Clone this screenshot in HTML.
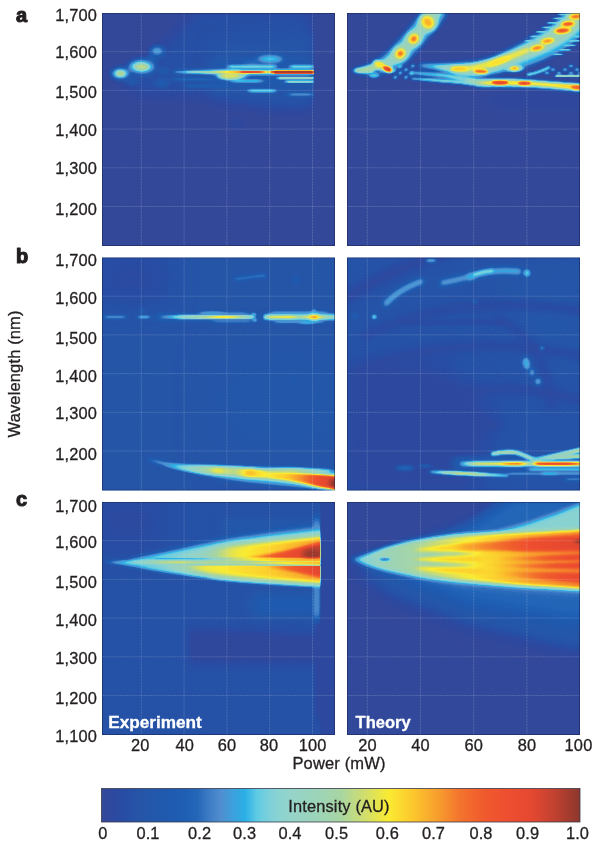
<!DOCTYPE html>
<html><head><meta charset="utf-8"><title>Figure</title>
<style>
html,body{margin:0;padding:0;background:#fff}
body{width:600px;height:846px;overflow:hidden}
svg{display:block}
text{font-family:"Liberation Sans",sans-serif;fill:#231f20}
.n{font-size:16.4px;stroke:#231f20;stroke-width:.3px;letter-spacing:.15px}
.b{font-weight:bold}
.g line{stroke:#fff;stroke-opacity:.3;stroke-width:.5;stroke-dasharray:2.4 .6}
</style></head><body>
<svg width="600" height="846" viewBox="0 0 600 846">
<defs>
<filter id="cm" x="0" y="0" width="1" height="1" filterUnits="objectBoundingBox" color-interpolation-filters="sRGB"><feComponentTransfer><feFuncR type="table" tableValues="0.212 0.210 0.209 0.208 0.206 0.195 0.183 0.173 0.155 0.149 0.145 0.137 0.128 0.121 0.118 0.122 0.141 0.192 0.243 0.278 0.314 0.275 0.235 0.200 0.165 0.269 0.373 0.431 0.490 0.520 0.549 0.569 0.588 0.593 0.598 0.603 0.608 0.621 0.633 0.646 0.659 0.698 0.737 0.776 0.816 0.857 0.898 0.939 0.980 0.982 0.984 0.986 0.988 0.984 0.980 0.976 0.973 0.968 0.963 0.958 0.953 0.950 0.947 0.944 0.941 0.939 0.937 0.935 0.933 0.924 0.914 0.904 0.894 0.857 0.820 0.782 0.745 0.696 0.647 0.598 0.549"/><feFuncG type="table" tableValues="0.282 0.283 0.283 0.283 0.283 0.284 0.286 0.289 0.302 0.319 0.333 0.342 0.347 0.354 0.363 0.378 0.400 0.443 0.486 0.522 0.557 0.592 0.627 0.659 0.690 0.743 0.796 0.806 0.816 0.822 0.827 0.829 0.831 0.831 0.831 0.831 0.831 0.833 0.835 0.837 0.839 0.847 0.855 0.863 0.871 0.883 0.896 0.909 0.922 0.887 0.853 0.819 0.784 0.745 0.706 0.667 0.627 0.583 0.539 0.495 0.451 0.426 0.402 0.377 0.353 0.341 0.329 0.318 0.306 0.300 0.294 0.288 0.282 0.275 0.269 0.262 0.255 0.245 0.235 0.225 0.216"/><feFuncB type="table" tableValues="0.600 0.601 0.602 0.603 0.604 0.611 0.619 0.627 0.642 0.651 0.658 0.667 0.676 0.688 0.699 0.709 0.722 0.747 0.773 0.792 0.812 0.837 0.863 0.882 0.902 0.898 0.894 0.875 0.855 0.835 0.816 0.800 0.784 0.770 0.755 0.740 0.725 0.703 0.680 0.658 0.635 0.582 0.529 0.476 0.424 0.367 0.310 0.253 0.196 0.191 0.186 0.181 0.176 0.176 0.176 0.176 0.176 0.176 0.176 0.176 0.176 0.176 0.176 0.176 0.176 0.179 0.182 0.185 0.188 0.188 0.188 0.188 0.188 0.188 0.188 0.188 0.188 0.185 0.182 0.179 0.176"/></feComponentTransfer></filter>
<linearGradient id="cb" x1="0" x2="1" y1="0" y2="0"><stop offset="0" stop-color="rgb(54,72,153)"/><stop offset="0.025" stop-color="rgb(45,73,159)"/><stop offset="0.05" stop-color="rgb(38,78,165)"/><stop offset="0.075" stop-color="rgb(38,84,167)"/><stop offset="0.1" stop-color="rgb(35,87,170)"/><stop offset="0.125" stop-color="rgb(32,89,173)"/><stop offset="0.15" stop-color="rgb(30,91,177)"/><stop offset="0.175" stop-color="rgb(30,95,180)"/><stop offset="0.2" stop-color="rgb(36,102,184)"/><stop offset="0.225" stop-color="rgb(62,124,197)"/><stop offset="0.25" stop-color="rgb(80,142,207)"/><stop offset="0.275" stop-color="rgb(60,160,220)"/><stop offset="0.3" stop-color="rgb(42,176,230)"/><stop offset="0.325" stop-color="rgb(95,203,228)"/><stop offset="0.35" stop-color="rgb(125,208,218)"/><stop offset="0.375" stop-color="rgb(140,211,208)"/><stop offset="0.4" stop-color="rgb(150,212,200)"/><stop offset="0.45" stop-color="rgb(155,212,185)"/><stop offset="0.5" stop-color="rgb(168,214,162)"/><stop offset="0.55" stop-color="rgb(208,222,108)"/><stop offset="0.6" stop-color="rgb(250,235,50)"/><stop offset="0.65" stop-color="rgb(252,200,45)"/><stop offset="0.7" stop-color="rgb(248,160,45)"/><stop offset="0.75" stop-color="rgb(243,115,45)"/><stop offset="0.8" stop-color="rgb(240,90,45)"/><stop offset="0.85" stop-color="rgb(238,78,48)"/><stop offset="0.9" stop-color="rgb(228,72,48)"/><stop offset="0.95" stop-color="rgb(190,65,48)"/><stop offset="1" stop-color="rgb(140,55,45)"/></linearGradient>
<clipPath id="cp00"><rect x="0" y="0" width="233" height="233"/></clipPath><clipPath id="cp01"><rect x="0" y="0" width="233" height="233"/></clipPath><clipPath id="cp02"><rect x="0" y="0" width="233" height="233"/></clipPath><clipPath id="cp10"><rect x="0" y="0" width="233" height="233"/></clipPath><clipPath id="cp11"><rect x="0" y="0" width="233" height="233"/></clipPath><clipPath id="cp12"><rect x="0" y="0" width="233" height="233"/></clipPath><linearGradient id="lg1" gradientUnits="userSpaceOnUse" x1="72" y1="0" x2="212" y2="0"><stop offset="0" stop-color="rgb(38,38,38)"/><stop offset="0.15" stop-color="rgb(61,61,61)"/><stop offset="0.3" stop-color="rgb(76,76,76)"/><stop offset="0.45" stop-color="rgb(92,92,92)"/><stop offset="1" stop-color="rgb(92,92,92)"/></linearGradient>
<linearGradient id="lg2" gradientUnits="userSpaceOnUse" x1="72" y1="0" x2="212" y2="0"><stop offset="0" stop-color="rgb(51,51,51)"/><stop offset="0.1" stop-color="rgb(84,84,84)"/><stop offset="0.28" stop-color="rgb(128,128,128)"/><stop offset="0.4" stop-color="rgb(158,158,158)"/><stop offset="0.47" stop-color="rgb(178,178,178)"/><stop offset="0.5" stop-color="rgb(230,230,230)"/><stop offset="0.6" stop-color="rgb(217,217,217)"/><stop offset="0.64" stop-color="rgb(178,178,178)"/><stop offset="0.675" stop-color="rgb(128,128,128)"/><stop offset="0.7" stop-color="rgb(204,204,204)"/><stop offset="0.73" stop-color="rgb(247,247,247)"/><stop offset="1" stop-color="rgb(247,247,247)"/></linearGradient>
<linearGradient id="lg3" gradientUnits="userSpaceOnUse" x1="110" y1="0" x2="233" y2="0"><stop offset="0" stop-color="rgb(89,89,89)" stop-opacity="0"/><stop offset="0.12" stop-color="rgb(115,115,115)"/><stop offset="0.25" stop-color="rgb(153,153,153)"/><stop offset="0.6" stop-color="rgb(153,153,153)"/><stop offset="0.8" stop-color="rgb(158,158,158)"/><stop offset="1" stop-color="rgb(178,178,178)"/></linearGradient>
<linearGradient id="lg4" gradientUnits="userSpaceOnUse" x1="58" y1="0" x2="152" y2="0"><stop offset="0" stop-color="rgb(51,51,51)"/><stop offset="0.2" stop-color="rgb(92,92,92)"/><stop offset="0.4" stop-color="rgb(117,117,117)"/><stop offset="0.55" stop-color="rgb(143,143,143)"/><stop offset="0.66" stop-color="rgb(158,158,158)"/><stop offset="0.8" stop-color="rgb(143,143,143)"/><stop offset="0.92" stop-color="rgb(115,115,115)"/><stop offset="1" stop-color="rgb(92,92,92)"/></linearGradient>
<linearGradient id="lg5" gradientUnits="userSpaceOnUse" x1="162" y1="0" x2="233" y2="0"><stop offset="0" stop-color="rgb(102,102,102)"/><stop offset="0.1" stop-color="rgb(153,153,153)"/><stop offset="0.36" stop-color="rgb(163,163,163)"/><stop offset="0.5" stop-color="rgb(133,133,133)"/><stop offset="0.62" stop-color="rgb(153,153,153)"/><stop offset="0.72" stop-color="rgb(184,184,184)"/><stop offset="0.8" stop-color="rgb(153,153,153)"/><stop offset="0.9" stop-color="rgb(122,122,122)"/><stop offset="1" stop-color="rgb(107,107,107)"/></linearGradient>
<linearGradient id="lg6" gradientUnits="userSpaceOnUse" x1="62" y1="0" x2="238" y2="0"><stop offset="0" stop-color="rgb(64,64,64)"/><stop offset="0.1" stop-color="rgb(92,92,92)"/><stop offset="0.2" stop-color="rgb(117,117,117)"/><stop offset="0.3" stop-color="rgb(143,143,143)"/><stop offset="0.4" stop-color="rgb(133,133,133)"/><stop offset="0.49" stop-color="rgb(163,163,163)"/><stop offset="0.58" stop-color="rgb(153,153,153)"/><stop offset="0.7" stop-color="rgb(166,166,166)"/><stop offset="0.8" stop-color="rgb(189,189,189)"/><stop offset="0.88" stop-color="rgb(219,219,219)"/><stop offset="0.95" stop-color="rgb(237,237,237)"/><stop offset="1" stop-color="rgb(255,255,255)"/></linearGradient>
<linearGradient id="lg7" gradientUnits="userSpaceOnUse" x1="165" y1="0" x2="228" y2="0"><stop offset="0" stop-color="rgb(128,128,128)"/><stop offset="0.4" stop-color="rgb(140,140,140)"/><stop offset="1" stop-color="rgb(97,97,97)"/></linearGradient>
<linearGradient id="lg8" gradientUnits="userSpaceOnUse" x1="84" y1="0" x2="160" y2="0"><stop offset="0" stop-color="rgb(71,71,71)"/><stop offset="0.2" stop-color="rgb(128,128,128)"/><stop offset="0.35" stop-color="rgb(158,158,158)"/><stop offset="0.6" stop-color="rgb(153,153,153)"/><stop offset="0.75" stop-color="rgb(107,107,107)"/><stop offset="1" stop-color="rgb(82,82,82)"/></linearGradient>
<linearGradient id="lg9" gradientUnits="userSpaceOnUse" x1="186" y1="0" x2="238" y2="0"><stop offset="0" stop-color="rgb(84,84,84)"/><stop offset="0.4" stop-color="rgb(107,107,107)"/><stop offset="1" stop-color="rgb(133,133,133)"/></linearGradient>
<linearGradient id="lg10" gradientUnits="userSpaceOnUse" x1="192" y1="0" x2="238" y2="0"><stop offset="0" stop-color="rgb(92,92,92)" stop-opacity="0"/><stop offset="0.3" stop-color="rgb(115,115,115)"/><stop offset="0.7" stop-color="rgb(148,148,148)"/><stop offset="1" stop-color="rgb(158,158,158)"/></linearGradient>
<linearGradient id="lg11" gradientUnits="userSpaceOnUse" x1="113" y1="0" x2="238" y2="0"><stop offset="0" stop-color="rgb(64,64,64)"/><stop offset="0.06" stop-color="rgb(102,102,102)"/><stop offset="0.12" stop-color="rgb(148,148,148)"/><stop offset="0.3" stop-color="rgb(158,158,158)"/><stop offset="0.38" stop-color="rgb(194,194,194)"/><stop offset="0.47" stop-color="rgb(204,204,204)"/><stop offset="0.53" stop-color="rgb(153,153,153)"/><stop offset="0.57" stop-color="rgb(128,128,128)"/><stop offset="0.62" stop-color="rgb(209,209,209)"/><stop offset="0.68" stop-color="rgb(237,237,237)"/><stop offset="0.86" stop-color="rgb(237,237,237)"/><stop offset="0.93" stop-color="rgb(204,204,204)"/><stop offset="1" stop-color="rgb(191,191,191)"/></linearGradient>
<linearGradient id="lg12" gradientUnits="userSpaceOnUse" x1="36" y1="0" x2="218" y2="0"><stop offset="0" stop-color="rgb(76,76,76)"/><stop offset="0.13" stop-color="rgb(87,87,87)"/><stop offset="0.35" stop-color="rgb(107,107,107)"/><stop offset="0.43" stop-color="rgb(128,128,128)"/><stop offset="0.52" stop-color="rgb(148,148,148)"/><stop offset="0.63" stop-color="rgb(156,156,156)"/><stop offset="0.74" stop-color="rgb(162,162,162)"/><stop offset="0.85" stop-color="rgb(171,171,171)"/><stop offset="1" stop-color="rgb(184,184,184)"/></linearGradient>
<clipPath id="cl1"><polygon points="0,0 222,0 222,56.4 50,55.6 0,55.6"/></clipPath>
<linearGradient id="lg13" gradientUnits="userSpaceOnUse" x1="30" y1="0" x2="218" y2="0"><stop offset="0" stop-color="rgb(76,76,76)"/><stop offset="0.16" stop-color="rgb(94,94,94)"/><stop offset="0.27" stop-color="rgb(120,120,120)"/><stop offset="0.37" stop-color="rgb(148,148,148)"/><stop offset="0.53" stop-color="rgb(156,156,156)"/><stop offset="0.7" stop-color="rgb(162,162,162)"/><stop offset="0.85" stop-color="rgb(171,171,171)"/><stop offset="1" stop-color="rgb(184,184,184)"/></linearGradient>
<clipPath id="cl2"><polygon points="0,63.2 222,63.6 222,120 0,120"/></clipPath>
<linearGradient id="lg14" gradientUnits="userSpaceOnUse" x1="140" y1="0" x2="218" y2="0"><stop offset="0" stop-color="rgb(168,168,168)" stop-opacity="0"/><stop offset="0.15" stop-color="rgb(178,178,178)"/><stop offset="0.45" stop-color="rgb(209,209,209)"/><stop offset="0.75" stop-color="rgb(230,230,230)"/><stop offset="1" stop-color="rgb(242,242,242)"/></linearGradient>
<clipPath id="cl3"><polygon points="0,0 222,0 222,56.4 50,55.6 0,55.6"/></clipPath>
<linearGradient id="lg15" gradientUnits="userSpaceOnUse" x1="160" y1="0" x2="218" y2="0"><stop offset="0" stop-color="rgb(168,168,168)" stop-opacity="0"/><stop offset="0.2" stop-color="rgb(178,178,178)"/><stop offset="0.6" stop-color="rgb(209,209,209)"/><stop offset="1" stop-color="rgb(230,230,230)"/></linearGradient>
<clipPath id="cl4"><polygon points="0,63.2 222,63.6 222,120 0,120"/></clipPath>
<linearGradient id="lg16" gradientUnits="userSpaceOnUse" x1="100" y1="0" x2="218" y2="0"><stop offset="0" stop-color="rgb(115,115,115)" stop-opacity="0"/><stop offset="0.2" stop-color="rgb(128,128,128)"/><stop offset="0.5" stop-color="rgb(158,158,158)"/><stop offset="0.8" stop-color="rgb(173,173,173)"/><stop offset="1" stop-color="rgb(178,178,178)"/></linearGradient>
<linearGradient id="lg17" gradientUnits="userSpaceOnUse" x1="48" y1="0" x2="128" y2="0"><stop offset="0" stop-color="rgb(74,74,74)" stop-opacity="0"/><stop offset="0.15" stop-color="rgb(74,74,74)"/><stop offset="0.7" stop-color="rgb(82,82,82)"/><stop offset="1" stop-color="rgb(89,89,89)" stop-opacity="0"/></linearGradient>
<linearGradient id="lg18" gradientUnits="userSpaceOnUse" x1="8" y1="0" x2="218" y2="0"><stop offset="0" stop-color="rgb(56,56,56)"/><stop offset="0.08" stop-color="rgb(84,84,84)"/><stop offset="0.17" stop-color="rgb(115,115,115)"/><stop offset="0.24" stop-color="rgb(148,148,148)"/><stop offset="0.33" stop-color="rgb(158,158,158)"/><stop offset="0.42" stop-color="rgb(143,143,143)"/><stop offset="0.5" stop-color="rgb(133,133,133)"/><stop offset="0.65" stop-color="rgb(138,138,138)"/><stop offset="0.75" stop-color="rgb(153,153,153)"/><stop offset="0.88" stop-color="rgb(173,173,173)"/><stop offset="1" stop-color="rgb(189,189,189)"/></linearGradient>
<clipPath id="cl5"><polygon points="0,0 222,0 222,56.6 0,56.6"/></clipPath>
<linearGradient id="lg19" gradientUnits="userSpaceOnUse" x1="3" y1="0" x2="233" y2="0"><stop offset="0" stop-color="rgb(76,76,76)"/><stop offset="0.065" stop-color="rgb(97,97,97)"/><stop offset="0.15" stop-color="rgb(115,115,115)"/><stop offset="0.24" stop-color="rgb(122,122,122)"/><stop offset="0.3" stop-color="rgb(130,130,130)"/><stop offset="0.42" stop-color="rgb(143,143,143)"/><stop offset="0.55" stop-color="rgb(156,156,156)"/><stop offset="0.66" stop-color="rgb(166,166,166)"/><stop offset="0.78" stop-color="rgb(178,178,178)"/><stop offset="1" stop-color="rgb(191,191,191)"/></linearGradient>
<linearGradient id="lg20" gradientUnits="userSpaceOnUse" x1="62" y1="0" x2="150" y2="0"><stop offset="0" stop-color="rgb(128,128,128)" stop-opacity="0"/><stop offset="0.15" stop-color="rgb(148,148,148)"/><stop offset="0.4" stop-color="rgb(161,161,161)"/><stop offset="0.8" stop-color="rgb(163,163,163)"/><stop offset="1" stop-color="rgb(163,163,163)" stop-opacity="0"/></linearGradient>
<linearGradient id="lg21" gradientUnits="userSpaceOnUse" x1="56" y1="0" x2="135" y2="0"><stop offset="0" stop-color="rgb(117,117,117)" stop-opacity="0"/><stop offset="0.2" stop-color="rgb(117,117,117)"/><stop offset="0.7" stop-color="rgb(128,128,128)"/><stop offset="1" stop-color="rgb(143,143,143)" stop-opacity="0"/></linearGradient>
<linearGradient id="lg22" gradientUnits="userSpaceOnUse" x1="100" y1="0" x2="233" y2="0"><stop offset="0" stop-color="rgb(163,163,163)" stop-opacity="0"/><stop offset="0.12" stop-color="rgb(173,173,173)"/><stop offset="0.4" stop-color="rgb(194,194,194)"/><stop offset="0.65" stop-color="rgb(217,217,217)"/><stop offset="1" stop-color="rgb(232,232,232)"/></linearGradient>
<linearGradient id="lg23" gradientUnits="userSpaceOnUse" x1="135" y1="0" x2="233" y2="0"><stop offset="0" stop-color="rgb(158,158,158)" stop-opacity="0"/><stop offset="0.2" stop-color="rgb(168,168,168)"/><stop offset="0.55" stop-color="rgb(194,194,194)"/><stop offset="0.8" stop-color="rgb(214,214,214)"/><stop offset="1" stop-color="rgb(224,224,224)"/></linearGradient>
<filter id="bl0" x="-100%" y="-100%" width="300%" height="300%" color-interpolation-filters="sRGB"><feGaussianBlur stdDeviation="7 7"/></filter>
<filter id="bl1" x="-100%" y="-100%" width="300%" height="300%" color-interpolation-filters="sRGB"><feGaussianBlur stdDeviation="8 8"/></filter>
<filter id="bl2" x="-100%" y="-100%" width="300%" height="300%" color-interpolation-filters="sRGB"><feGaussianBlur stdDeviation="3 3"/></filter>
<filter id="bl3" x="-100%" y="-100%" width="300%" height="300%" color-interpolation-filters="sRGB"><feGaussianBlur stdDeviation="2.6 2.6"/></filter>
<filter id="bl4" x="-100%" y="-100%" width="300%" height="300%" color-interpolation-filters="sRGB"><feGaussianBlur stdDeviation="1.8 1.8"/></filter>
<filter id="bl5" x="-100%" y="-100%" width="300%" height="300%" color-interpolation-filters="sRGB"><feGaussianBlur stdDeviation="1.2 1.2"/></filter>
<filter id="bl6" x="-100%" y="-100%" width="300%" height="300%" color-interpolation-filters="sRGB"><feGaussianBlur stdDeviation="2.8 2.8"/></filter>
<filter id="bl7" x="-100%" y="-100%" width="300%" height="300%" color-interpolation-filters="sRGB"><feGaussianBlur stdDeviation="1.3 1.3"/></filter>
<filter id="bl8" x="-100%" y="-100%" width="300%" height="300%" color-interpolation-filters="sRGB"><feGaussianBlur stdDeviation="2.5 2.5"/></filter>
<filter id="bl9" x="-100%" y="-100%" width="300%" height="300%" color-interpolation-filters="sRGB"><feGaussianBlur stdDeviation="2 2"/></filter>
<filter id="bl10" x="-100%" y="-100%" width="300%" height="300%" color-interpolation-filters="sRGB"><feGaussianBlur stdDeviation="4 1"/></filter>
<filter id="bl11" x="-100%" y="-100%" width="300%" height="300%" color-interpolation-filters="sRGB"><feGaussianBlur stdDeviation="5 1.2"/></filter>
<filter id="bl12" x="-100%" y="-100%" width="300%" height="300%" color-interpolation-filters="sRGB"><feGaussianBlur stdDeviation="6 4"/></filter>
<filter id="bl13" x="-100%" y="-100%" width="300%" height="300%" color-interpolation-filters="sRGB"><feGaussianBlur stdDeviation="3 1.2"/></filter>
<filter id="bl14" x="-100%" y="-100%" width="300%" height="300%" color-interpolation-filters="sRGB"><feGaussianBlur stdDeviation="3 1.5"/></filter>
<filter id="bl15" x="-100%" y="-100%" width="300%" height="300%" color-interpolation-filters="sRGB"><feGaussianBlur stdDeviation="2 1"/></filter>
<filter id="bl16" x="-100%" y="-100%" width="300%" height="300%" color-interpolation-filters="sRGB"><feGaussianBlur stdDeviation="3 2"/></filter>
<filter id="bl17" x="-100%" y="-100%" width="300%" height="300%" color-interpolation-filters="sRGB"><feGaussianBlur stdDeviation="2 0.8"/></filter>
<filter id="bl18" x="-100%" y="-100%" width="300%" height="300%" color-interpolation-filters="sRGB"><feGaussianBlur stdDeviation="2 0.7"/></filter>
<filter id="bl19" x="-100%" y="-100%" width="300%" height="300%" color-interpolation-filters="sRGB"><feGaussianBlur stdDeviation="2.5 0.9"/></filter>
<filter id="bl20" x="-100%" y="-100%" width="300%" height="300%" color-interpolation-filters="sRGB"><feGaussianBlur stdDeviation="3 0.8"/></filter>
<filter id="bl21" x="-100%" y="-100%" width="300%" height="300%" color-interpolation-filters="sRGB"><feGaussianBlur stdDeviation="1.2 0.65"/></filter>
<filter id="bl22" x="-100%" y="-100%" width="300%" height="300%" color-interpolation-filters="sRGB"><feGaussianBlur stdDeviation="0.8 0.55"/></filter>
<filter id="bl23" x="-100%" y="-100%" width="300%" height="300%" color-interpolation-filters="sRGB"><feGaussianBlur stdDeviation="8 6"/></filter>
<filter id="bl24" x="-100%" y="-100%" width="300%" height="300%" color-interpolation-filters="sRGB"><feGaussianBlur stdDeviation="2.4 2.4"/></filter>
<filter id="bl25" x="-100%" y="-100%" width="300%" height="300%" color-interpolation-filters="sRGB"><feGaussianBlur stdDeviation="1.6 1.6"/></filter>
<filter id="bl26" x="-100%" y="-100%" width="300%" height="300%" color-interpolation-filters="sRGB"><feGaussianBlur stdDeviation="1.5 1.5"/></filter>
<filter id="bl27" x="-100%" y="-100%" width="300%" height="300%" color-interpolation-filters="sRGB"><feGaussianBlur stdDeviation="1 1"/></filter>
<filter id="bl28" x="-100%" y="-100%" width="300%" height="300%" color-interpolation-filters="sRGB"><feGaussianBlur stdDeviation="0.8 0.8"/></filter>
<filter id="bl29" x="-100%" y="-100%" width="300%" height="300%" color-interpolation-filters="sRGB"><feGaussianBlur stdDeviation="2.2 2.2"/></filter>
<filter id="bl30" x="-100%" y="-100%" width="300%" height="300%" color-interpolation-filters="sRGB"><feGaussianBlur stdDeviation="1.4 0.6"/></filter>
<filter id="bl31" x="-100%" y="-100%" width="300%" height="300%" color-interpolation-filters="sRGB"><feGaussianBlur stdDeviation="1.7 1.7"/></filter>
<filter id="bl32" x="-100%" y="-100%" width="300%" height="300%" color-interpolation-filters="sRGB"><feGaussianBlur stdDeviation="1.1 1.1"/></filter>
<filter id="bl33" x="-100%" y="-100%" width="300%" height="300%" color-interpolation-filters="sRGB"><feGaussianBlur stdDeviation="0.9 0.9"/></filter>
<filter id="bl34" x="-100%" y="-100%" width="300%" height="300%" color-interpolation-filters="sRGB"><feGaussianBlur stdDeviation="1.5 0.7"/></filter>
<filter id="bl35" x="-100%" y="-100%" width="300%" height="300%" color-interpolation-filters="sRGB"><feGaussianBlur stdDeviation="14 14"/></filter>
<filter id="bl36" x="-100%" y="-100%" width="300%" height="300%" color-interpolation-filters="sRGB"><feGaussianBlur stdDeviation="20 20"/></filter>
<filter id="bl37" x="-100%" y="-100%" width="300%" height="300%" color-interpolation-filters="sRGB"><feGaussianBlur stdDeviation="2.5 1"/></filter>
<filter id="bl38" x="-100%" y="-100%" width="300%" height="300%" color-interpolation-filters="sRGB"><feGaussianBlur stdDeviation="3 1"/></filter>
<filter id="bl39" x="-100%" y="-100%" width="300%" height="300%" color-interpolation-filters="sRGB"><feGaussianBlur stdDeviation="1.5 0.75"/></filter>
<filter id="bl40" x="-100%" y="-100%" width="300%" height="300%" color-interpolation-filters="sRGB"><feGaussianBlur stdDeviation="1.3 0.8"/></filter>
<filter id="bl41" x="-100%" y="-100%" width="300%" height="300%" color-interpolation-filters="sRGB"><feGaussianBlur stdDeviation="3 0.9"/></filter>
<filter id="bl42" x="-100%" y="-100%" width="300%" height="300%" color-interpolation-filters="sRGB"><feGaussianBlur stdDeviation="12 12"/></filter>
<filter id="bl43" x="-100%" y="-100%" width="300%" height="300%" color-interpolation-filters="sRGB"><feGaussianBlur stdDeviation="4 4"/></filter>
<filter id="bl44" x="-100%" y="-100%" width="300%" height="300%" color-interpolation-filters="sRGB"><feGaussianBlur stdDeviation="3.5 3.5"/></filter>
<filter id="bl45" x="-100%" y="-100%" width="300%" height="300%" color-interpolation-filters="sRGB"><feGaussianBlur stdDeviation="2.1 2.1"/></filter>
<filter id="bl46" x="-100%" y="-100%" width="300%" height="300%" color-interpolation-filters="sRGB"><feGaussianBlur stdDeviation="1.4 1.4"/></filter>
<filter id="bl47" x="-100%" y="-100%" width="300%" height="300%" color-interpolation-filters="sRGB"><feGaussianBlur stdDeviation="5 2.2"/></filter>
<filter id="bl48" x="-100%" y="-100%" width="300%" height="300%" color-interpolation-filters="sRGB"><feGaussianBlur stdDeviation="1.4 0.8"/></filter>
<filter id="bl49" x="-100%" y="-100%" width="300%" height="300%" color-interpolation-filters="sRGB"><feGaussianBlur stdDeviation="1.6 0.85"/></filter>
<filter id="bl50" x="-100%" y="-100%" width="300%" height="300%" color-interpolation-filters="sRGB"><feGaussianBlur stdDeviation="3 4"/></filter>
<filter id="bl51" x="-100%" y="-100%" width="300%" height="300%" color-interpolation-filters="sRGB"><feGaussianBlur stdDeviation="1.5 6"/></filter>
<filter id="bl52" x="-100%" y="-100%" width="300%" height="300%" color-interpolation-filters="sRGB"><feGaussianBlur stdDeviation="7 4"/></filter>
<filter id="bl53" x="-100%" y="-100%" width="300%" height="300%" color-interpolation-filters="sRGB"><feGaussianBlur stdDeviation="1 4"/></filter>
<filter id="bl54" x="-100%" y="-100%" width="300%" height="300%" color-interpolation-filters="sRGB"><feGaussianBlur stdDeviation="0.6 0.6"/></filter>
<filter id="bl55" x="-100%" y="-100%" width="300%" height="300%" color-interpolation-filters="sRGB"><feGaussianBlur stdDeviation="0.5 0.5"/></filter>
<filter id="bl56" x="-100%" y="-100%" width="300%" height="300%" color-interpolation-filters="sRGB"><feGaussianBlur stdDeviation="1.5 0.6"/></filter>
<filter id="bl57" x="-100%" y="-100%" width="300%" height="300%" color-interpolation-filters="sRGB"><feGaussianBlur stdDeviation="1.5 0.5"/></filter>
<filter id="bl58" x="-100%" y="-100%" width="300%" height="300%" color-interpolation-filters="sRGB"><feGaussianBlur stdDeviation="9 9"/></filter>
<filter id="bl59" x="-100%" y="-100%" width="300%" height="300%" color-interpolation-filters="sRGB"><feGaussianBlur stdDeviation="6 6"/></filter>
<filter id="bl60" x="-100%" y="-100%" width="300%" height="300%" color-interpolation-filters="sRGB"><feGaussianBlur stdDeviation="2.3 2.3"/></filter>
<filter id="bl61" x="-100%" y="-100%" width="300%" height="300%" color-interpolation-filters="sRGB"><feGaussianBlur stdDeviation="2 1.1"/></filter>
</defs>
<g transform="translate(102,13)" clip-path="url(#cp00)">
<g filter="url(#cm)">
<rect x="0" y="0" width="233" height="233" fill="#0d0d0d"/>
<polygon points="14,70 40,52 95,-5 212,-5 212,98 180,99 100,86 40,82" fill="rgb(28,28,28)" filter="url(#bl0)"/>
<polygon points="110,30 212,20 212,90 110,84" fill="rgb(33,33,33)" filter="url(#bl1)"/>
<ellipse cx="135" cy="110" rx="8" ry="3" fill="rgb(31,31,31)" filter="url(#bl2)"/>
<ellipse cx="18.6" cy="60.4" rx="10" ry="6" fill="rgb(79,79,79)" filter="url(#bl3)"/>
<ellipse cx="18.6" cy="60.4" rx="5.5" ry="3.2" fill="rgb(107,107,107)" filter="url(#bl4)"/>
<ellipse cx="18.6" cy="60.4" rx="3.6" ry="2" fill="rgb(135,135,135)" filter="url(#bl5)"/>
<ellipse cx="39.4" cy="53.6" rx="14" ry="7.5" fill="rgb(79,79,79)" filter="url(#bl6)"/>
<ellipse cx="39.4" cy="53.6" rx="8.5" ry="4.2" fill="rgb(107,107,107)" filter="url(#bl4)"/>
<ellipse cx="39.8" cy="53.8" rx="6" ry="2.6" fill="rgb(135,135,135)" filter="url(#bl7)"/>
<ellipse cx="55" cy="38" rx="7" ry="4.5" fill="rgb(76,76,76)" filter="url(#bl8)"/>
<ellipse cx="50" cy="46" rx="5" ry="3" fill="rgb(56,56,56)" filter="url(#bl8)"/>
<ellipse cx="60" cy="70" rx="6" ry="3" fill="rgb(51,51,51)" filter="url(#bl8)"/>
<ellipse cx="30" cy="68" rx="6" ry="3" fill="rgb(46,46,46)" filter="url(#bl8)"/>
<ellipse cx="62" cy="58" rx="5" ry="2" fill="rgb(51,51,51)" filter="url(#bl9)"/>
<rect x="72" y="65" width="50" height="2.6" fill="rgb(59,59,59)" filter="url(#bl10)"/>
<rect x="84" y="71.5" width="44" height="3" fill="rgb(51,51,51)" filter="url(#bl11)"/>
<rect x="110" y="48" width="102" height="26" fill="rgb(41,41,41)" filter="url(#bl12)"/>
<rect x="72" y="56" width="140" height="6" fill="url(#lg1)" filter="url(#bl13)"/>
<ellipse cx="130" cy="62" rx="14" ry="4.6" fill="rgb(117,117,117)" filter="url(#bl14)"/>
<ellipse cx="128" cy="63" rx="11" ry="3" fill="rgb(143,143,143)" filter="url(#bl15)"/>
<ellipse cx="168" cy="46" rx="13" ry="4" fill="rgb(84,84,84)" filter="url(#bl16)"/>
<ellipse cx="150" cy="50" rx="10" ry="3" fill="rgb(56,56,56)" filter="url(#bl16)"/>
<rect x="126" y="52.2" width="48" height="2.8" fill="rgb(102,102,102)" filter="url(#bl17)"/>
<rect x="188" y="52.2" width="24" height="2.8" fill="rgb(102,102,102)" filter="url(#bl17)"/>
<rect x="176" y="63.8" width="36" height="2.6" fill="rgb(107,107,107)" filter="url(#bl18)"/>
<rect x="184" y="67.4" width="28" height="2.4" fill="rgb(102,102,102)" filter="url(#bl18)"/>
<rect x="146" y="76.3" width="28" height="3" fill="rgb(97,97,97)" filter="url(#bl19)"/>
<rect x="186" y="80" width="26" height="3" fill="rgb(69,69,69)" filter="url(#bl13)"/>
<rect x="130" y="66.8" width="30" height="2.4" fill="rgb(97,97,97)" filter="url(#bl20)"/>
<rect x="72" y="57.8" width="140" height="2.6" fill="url(#lg2)" filter="url(#bl21)"/>
<rect x="172" y="57.6" width="40" height="3" fill="rgb(247,247,247)" filter="url(#bl22)"/>
<rect x="212" y="-5" width="30" height="243" fill="rgb(13,13,13)"/>
</g>
<g class="g"><line x1="39.3" y1="0" x2="39.3" y2="233"/><line x1="82.1" y1="0" x2="82.1" y2="233"/><line x1="124.9" y1="0" x2="124.9" y2="233"/><line x1="167.7" y1="0" x2="167.7" y2="233"/><line x1="210.5" y1="0" x2="210.5" y2="233"/><line x1="0" y1="38.7" x2="233" y2="38.7"/><line x1="0" y1="77.4" x2="233" y2="77.4"/><line x1="0" y1="116.1" x2="233" y2="116.1"/><line x1="0" y1="154.8" x2="233" y2="154.8"/><line x1="0" y1="193.5" x2="233" y2="193.5"/></g>
<rect x="0.4" y="0.4" width="232.2" height="232.2" fill="none" stroke="#141a46" stroke-opacity=".55" stroke-width=".8"/>
</g>
<g transform="translate(347,13)" clip-path="url(#cp10)">
<g filter="url(#cm)">
<rect x="0" y="0" width="233" height="233" fill="#0d0d0d"/>
<rect x="140" y="76" width="110" height="22" fill="rgb(19,19,19)" filter="url(#bl23)"/>
<polygon points="3,57.5 3.9,57.8 5.2,58.2 6.7,58.7 8.4,59.2 10.1,59.7 11.9,60.2 13.6,60.7 15.2,61 16.7,61.2 18.1,61.4 19.5,61.6 20.9,61.7 22.2,61.8 23.6,61.9 24.9,61.9 26.3,61.9 27.7,61.8 29,61.8 30.4,61.7 31.9,61.6 33.4,61.4 35,61.1 36.6,60.7 38.3,60.3 40,59.8 41.6,59.2 43.2,58.5 44.8,57.8 46.3,57.1 47.8,56.4 49.2,55.7 50.5,55 51.8,54.3 53.1,53.6 54.4,52.8 55.7,52 57,51.2 58.2,50.3 59.4,49.3 60.7,48.3 61.9,47.2 63,46 64.1,44.9 65,43.8 65.8,42.8 66.6,41.8 67.3,41 68,40.2 68.7,39.4 69.5,38.6 70.3,37.7 71.1,36.9 72,35.9 72.9,35 73.9,33.9 74.8,32.9 75.8,31.7 76.7,30.6 77.6,29.5 78.4,28.4 79.3,27.4 80.1,26.4 80.9,25.4 81.7,24.5 82.5,23.6 83.4,22.6 84.3,21.6 85.3,20.6 86.3,19.6 87.3,18.5 88.3,17.3 89.3,16.2 90.3,15 91.2,13.9 92,12.7 92.9,11.6 93.7,10.5 94.4,9.5 95.2,8.5 95.9,7.5 96.6,6.5 97.4,5.4 98.1,4.4 98.9,3.3 99.5,2.4 100.1,1.6 100.6,0.9 101,0.4 83,-12.4 82.6,-11.8 82.1,-11.1 81.6,-10.3 80.9,-9.4 80.2,-8.4 79.5,-7.4 78.8,-6.4 78.1,-5.5 77.4,-4.5 76.7,-3.5 76,-2.6 75.2,-1.6 74.5,-0.6 73.7,0.4 73,1.3 72.3,2.2 71.6,3.1 70.8,4.1 70,5 69.1,6.1 68.2,7.1 67.3,8.2 66.3,9.4 65.3,10.5 64.4,11.7 63.4,12.8 62.5,13.9 61.7,15 60.9,16 60.1,17 59.3,17.9 58.6,18.7 57.9,19.6 57.1,20.4 56.4,21.2 55.6,22 54.7,22.9 53.9,23.8 53,24.8 52,25.8 51.1,26.9 50.1,27.9 49.3,28.9 48.5,29.8 47.8,30.6 47.1,31.4 46.5,32 45.9,32.7 45.3,33.4 44.5,34.1 43.8,34.9 43,35.7 42.2,36.5 41.3,37.3 40.4,38.1 39.5,39 38.5,39.9 37.5,40.8 36.4,41.7 35.4,42.6 34.4,43.5 33.5,44.3 32.6,45 31.7,45.7 30.9,46.3 30,46.9 29.1,47.5 28.1,48 27.1,48.5 26,49.1 24.8,49.6 23.7,50.1 22.6,50.7 21.5,51.2 20.5,51.7 19.4,52.1 18.3,52.6 17.2,53.1 16,53.5 14.8,54 13.4,54.5 11.8,55 10.1,55.5 8.4,56 6.7,56.5 5.2,56.9 3.9,57.2 3,57.5" fill="rgb(76,76,76)" filter="url(#bl24)"/>
<polygon points="3,57.5 3.9,57.6 5.2,57.9 6.7,58.1 8.4,58.4 10.1,58.7 11.9,58.9 13.6,59.1 15.1,59.2 16.5,59.3 17.9,59.4 19.2,59.4 20.5,59.3 21.8,59.3 23.1,59.2 24.4,59.1 25.7,58.9 27,58.8 28.3,58.6 29.6,58.4 31,58.2 32.3,57.9 33.8,57.5 35.2,57.1 36.6,56.6 38.1,56.1 39.6,55.4 41,54.7 42.5,54 43.8,53.3 45.2,52.5 46.5,51.8 47.8,51 49,50.3 50.2,49.5 51.4,48.7 52.5,47.9 53.7,47.1 54.8,46.2 55.9,45.4 57,44.4 58.1,43.4 59.1,42.4 60,41.3 60.9,40.3 61.7,39.3 62.5,38.4 63.2,37.5 64,36.6 64.8,35.8 65.6,34.9 66.4,34 67.2,33.2 68.1,32.3 69,31.3 69.9,30.3 70.8,29.3 71.7,28.3 72.5,27.2 73.4,26.1 74.3,25.1 75.1,24 75.9,23 76.8,22 77.6,21 78.5,20 79.3,19 80.3,18 81.2,17 82.2,15.9 83.2,14.9 84.1,13.8 85.1,12.7 85.9,11.6 86.8,10.5 87.6,9.4 88.5,8.3 89.2,7.3 90,6.2 90.7,5.2 91.4,4.3 92.2,3.3 92.9,2.2 93.7,1.2 94.4,0.2 95,-0.8 95.6,-1.6 96.1,-2.3 96.5,-2.8 87.5,-9.2 87.1,-8.6 86.6,-7.9 86.1,-7.1 85.4,-6.2 84.7,-5.2 84,-4.2 83.3,-3.2 82.6,-2.3 81.9,-1.3 81.1,-0.3 80.4,0.7 79.6,1.7 78.9,2.7 78.1,3.7 77.3,4.7 76.5,5.7 75.8,6.7 74.9,7.7 74.1,8.7 73.1,9.7 72.2,10.8 71.3,11.8 70.3,12.9 69.4,14 68.5,15.1 67.6,16.2 66.7,17.3 65.9,18.4 65,19.4 64.2,20.4 63.4,21.4 62.6,22.3 61.9,23.2 61.1,24 60.3,24.9 59.4,25.7 58.6,26.6 57.8,27.5 56.9,28.4 56,29.4 55.1,30.4 54.3,31.4 53.4,32.4 52.6,33.3 51.9,34.2 51.1,35 50.4,35.8 49.6,36.6 48.8,37.4 48,38.2 47.1,39 46.2,39.8 45.2,40.6 44.3,41.4 43.3,42.2 42.2,43 41.2,43.8 40,44.7 38.9,45.6 37.8,46.4 36.6,47.2 35.5,48 34.4,48.7 33.4,49.4 32.3,49.9 31.2,50.4 30.2,50.9 29,51.4 27.9,51.8 26.7,52.2 25.5,52.7 24.3,53.1 23.2,53.5 22,53.8 20.9,54.2 19.8,54.5 18.6,54.9 17.4,55.2 16.2,55.5 14.9,55.8 13.5,56 11.8,56.3 10.1,56.6 8.4,56.8 6.7,57 5.2,57.2 3.9,57.4 3,57.5" fill="rgb(102,102,102)" filter="url(#bl4)"/>
<polygon points="8.1,58.7 9,58.8 10.3,58.9 11.8,59 13.5,59.1 15.3,59.2 17.1,59.3 18.8,59.3 20.4,59.2 21.9,59.1 23.3,58.9 24.7,58.6 26.1,58.4 27.3,58.1 28.6,57.8 29.8,57.5 30.9,57.1 32.1,56.8 33.2,56.3 34.4,55.8 35.5,55.4 36.5,54.9 37.4,54.5 38.2,54.1 38.8,53.9 37.2,49.1 36.6,49.3 35.8,49.4 34.8,49.6 33.7,49.8 32.6,50.1 31.4,50.3 30.2,50.6 29.1,50.9 28,51.2 26.8,51.5 25.6,51.9 24.4,52.3 23.2,52.7 22,53.1 20.8,53.4 19.6,53.8 18.2,54.1 16.6,54.5 14.9,54.8 13.2,55.2 11.6,55.5 10.1,55.8 8.8,56.1 7.9,56.3" fill="rgb(128,128,128)" filter="url(#bl25)"/>
<ellipse cx="32" cy="51" rx="6" ry="3.2" fill="rgb(158,158,158)" transform="rotate(18 32 51)" filter="url(#bl26)"/>
<ellipse cx="40.8" cy="56.3" rx="5.2" ry="2.8" fill="rgb(237,237,237)" transform="rotate(22 40.8 56.3)" filter="url(#bl5)"/>
<ellipse cx="53.3" cy="40.5" rx="9.5" ry="7.4" fill="rgb(117,117,117)" transform="rotate(-45 53.3 40.5)" filter="url(#bl9)"/>
<ellipse cx="53.3" cy="40.5" rx="6.2" ry="5.2" fill="rgb(153,153,153)" transform="rotate(-45 53.3 40.5)" filter="url(#bl25)"/>
<ellipse cx="53.3" cy="40.5" rx="3" ry="2.6" fill="rgb(194,194,194)" transform="rotate(-45 53.3 40.5)" filter="url(#bl7)"/>
<ellipse cx="66.7" cy="25.8" rx="9.5" ry="7.4" fill="rgb(117,117,117)" transform="rotate(-45 66.7 25.8)" filter="url(#bl9)"/>
<ellipse cx="66.7" cy="25.8" rx="6.2" ry="5.2" fill="rgb(153,153,153)" transform="rotate(-45 66.7 25.8)" filter="url(#bl25)"/>
<ellipse cx="66.7" cy="25.8" rx="3" ry="2.6" fill="rgb(194,194,194)" transform="rotate(-45 66.7 25.8)" filter="url(#bl7)"/>
<ellipse cx="80.8" cy="9.2" rx="10" ry="9.5" fill="rgb(117,117,117)" transform="rotate(-45 80.8 9.2)" filter="url(#bl9)"/>
<ellipse cx="80.8" cy="9.2" rx="6.7" ry="7.3" fill="rgb(153,153,153)" transform="rotate(-45 80.8 9.2)" filter="url(#bl25)"/>
<ellipse cx="80.8" cy="9.2" rx="3.5" ry="4.7" fill="rgb(173,173,173)" transform="rotate(-45 80.8 9.2)" filter="url(#bl7)"/>
<ellipse cx="30" cy="58.6" rx="4" ry="1.2" fill="rgb(31,31,31)" filter="url(#bl27)"/>
<ellipse cx="27" cy="62.5" rx="5.5" ry="2.4" fill="rgb(84,84,84)" filter="url(#bl5)"/>
<ellipse cx="65.8" cy="53" rx="2.6" ry="1.7" fill="rgb(94,94,94)" transform="rotate(-30 65.8 53)" filter="url(#bl28)"/>
<ellipse cx="59" cy="56.7" rx="2.6" ry="1.7" fill="rgb(94,94,94)" transform="rotate(-30 59 56.7)" filter="url(#bl28)"/>
<ellipse cx="53.3" cy="60" rx="2.6" ry="1.7" fill="rgb(94,94,94)" transform="rotate(-30 53.3 60)" filter="url(#bl28)"/>
<ellipse cx="48.3" cy="64.2" rx="2.6" ry="1.7" fill="rgb(94,94,94)" transform="rotate(-30 48.3 64.2)" filter="url(#bl28)"/>
<ellipse cx="59" cy="64.2" rx="2.6" ry="1.7" fill="rgb(94,94,94)" transform="rotate(-30 59 64.2)" filter="url(#bl28)"/>
<ellipse cx="53" cy="53.5" rx="2.6" ry="1.7" fill="rgb(94,94,94)" transform="rotate(-30 53 53.5)" filter="url(#bl28)"/>
<ellipse cx="47" cy="57.5" rx="2.6" ry="1.7" fill="rgb(94,94,94)" transform="rotate(-30 47 57.5)" filter="url(#bl28)"/>
<ellipse cx="64.5" cy="60.5" rx="2.6" ry="1.7" fill="rgb(94,94,94)" transform="rotate(-30 64.5 60.5)" filter="url(#bl28)"/>
<polygon points="71.9,53.7 73.2,53.9 74.8,54.1 76.8,54.3 79,54.6 81.3,54.9 83.6,55.3 85.8,55.6 87.8,56 89.6,56.4 91.4,56.9 93.2,57.4 94.9,57.9 96.6,58.4 98.3,58.9 99.9,59.5 101.4,60 102.7,60.5 104,61 105.2,61.5 106.4,62.1 107.7,62.6 109.2,63.2 110.8,63.6 112.5,64 114.3,64.3 116.1,64.5 118.1,64.8 120.2,64.9 122.3,65 124.4,65.1 126.6,65.1 128.8,65 131.1,64.8 133.3,64.5 135.5,64.1 137.6,63.7 139.7,63.3 141.6,62.8 143.5,62.4 145.2,62 146.8,61.6 148.1,61.2 149.4,60.8 150.7,60.4 151.9,60 153.2,59.5 154.6,59 156.4,58.3 158.5,57.6 160.9,56.7 163.6,55.7 166.3,54.7 169.1,53.6 171.9,52.6 174.5,51.6 176.9,50.7 179.2,49.9 181.3,49.1 183.4,48.3 185.5,47.6 187.6,46.8 189.6,46.1 191.7,45.3 193.8,44.4 195.8,43.6 197.7,42.8 199.6,41.9 201.5,41.1 203.4,40.2 205.3,39.2 207.3,38.3 209.2,37.3 211.1,36.2 213.1,35.2 215.1,34.1 217.1,32.9 219.1,31.7 221.1,30.4 223.2,29.1 225.2,27.6 227.1,26.1 229,24.6 230.7,23.1 232.5,21.5 234.1,19.9 235.7,18.4 237.3,16.8 238.9,15.2 240.6,13.4 242.3,11.4 244,9.4 245.7,7.4 247.2,5.6 248.5,3.9 249.6,2.6 250.4,1.6 229.6,-15.6 228.7,-14.6 227.6,-13.2 226.3,-11.6 224.8,-9.8 223.3,-8.1 221.8,-6.3 220.4,-4.6 219.1,-3.2 217.8,-1.8 216.5,-0.3 215.2,1.1 213.9,2.4 212.6,3.7 211.4,5 210.1,6.2 208.8,7.4 207.5,8.5 206.1,9.7 204.7,10.9 203.2,12.1 201.6,13.3 200,14.4 198.4,15.6 196.8,16.7 195.3,17.8 193.7,18.8 192.2,19.8 190.7,20.8 189.2,21.7 187.6,22.7 185.9,23.6 184.2,24.6 182.5,25.5 180.8,26.4 179.1,27.4 177.2,28.3 175.3,29.2 173.3,30.2 171.2,31.2 169.1,32.3 166.7,33.5 164.2,34.7 161.6,36 158.9,37.3 156.3,38.5 153.8,39.7 151.6,40.8 149.6,41.7 148,42.4 146.6,43 145.6,43.4 144.7,43.8 143.9,44.1 143.1,44.4 142.1,44.7 140.8,45 139.2,45.5 137.6,45.9 135.8,46.3 134,46.7 132.2,47.1 130.5,47.5 128.8,47.8 127.2,48 125.6,48.2 123.9,48.4 122.1,48.5 120.3,48.6 118.6,48.7 116.8,48.8 115.1,48.9 113.5,49 112.1,49.2 110.9,49.3 109.7,49.4 108.5,49.6 107.2,49.7 105.8,49.8 104.2,49.9 102.6,50 101,50.2 99.3,50.3 97.5,50.4 95.7,50.6 93.9,50.7 92,50.8 90.1,50.9 88.2,51 86.2,51.1 83.9,51.1 81.6,51.2 79.2,51.2 77,51.2 75,51.2 73.3,51.2 72.1,51.3" fill="rgb(76,76,76)" filter="url(#bl24)"/>
<polygon points="148.4,59 149.9,58.8 152,58.7 154.5,58.6 157.3,58.4 160.3,58.1 163.3,57.8 166.2,57.4 169,56.9 171.7,56.2 174.4,55.5 177,54.7 179.7,53.8 182.3,52.9 184.9,52 187.3,51.1 189.7,50.2 192,49.3 194.2,48.3 196.3,47.4 198.4,46.5 200.4,45.5 202.4,44.5 204.5,43.4 206.6,42.3 208.7,41.1 210.8,39.9 213,38.7 215.1,37.4 217.3,36.1 219.4,34.7 221.6,33.2 223.7,31.7 226,30 228.4,28.1 230.8,26 233.2,24 235.4,22.1 237.4,20.3 239.1,18.9 240.3,17.9 231.7,8.1 230.4,9.3 228.8,10.8 226.9,12.6 224.8,14.6 222.6,16.7 220.4,18.7 218.2,20.6 216.3,22.3 214.4,23.8 212.6,25.4 210.7,26.9 208.9,28.3 207,29.8 205.2,31.1 203.3,32.4 201.4,33.7 199.6,34.9 197.8,36 196,37 194.1,38 192.3,39 190.4,39.9 188.4,40.9 186.3,41.8 184,42.8 181.7,43.8 179.3,44.7 176.8,45.7 174.3,46.6 171.8,47.5 169.3,48.3 167,49.1 164.5,50 161.8,50.8 159,51.7 156.2,52.5 153.6,53.3 151.2,54 149.2,54.6 147.6,55" fill="rgb(76,76,76)" filter="url(#bl29)"/>
<polygon points="72,53.3 73.2,53.4 74.9,53.6 76.9,53.8 79.1,54 81.4,54.2 83.7,54.5 85.9,54.8 87.9,55.1 89.7,55.4 91.5,55.8 93.3,56.2 95.1,56.6 96.8,57 98.4,57.4 100.1,57.8 101.6,58.2 103,58.6 104.3,59 105.5,59.4 106.8,59.8 108.1,60.3 109.5,60.7 111,61 112.7,61.3 114.4,61.5 116.3,61.7 118.2,61.9 120.2,62 122.2,62.1 124.3,62.1 126.4,62 128.5,61.9 130.7,61.7 132.8,61.4 134.9,61.1 137,60.6 139,60.2 140.9,59.8 142.7,59.3 144.4,58.9 145.9,58.5 147.2,58.2 148.4,57.8 149.6,57.4 150.8,57 152,56.5 153.4,56 155.2,55.3 157.3,54.5 159.7,53.6 162.3,52.6 165,51.5 167.8,50.4 170.5,49.4 173.1,48.3 175.5,47.4 177.7,46.5 179.9,45.7 182,44.9 184,44.1 186,43.3 188.1,42.5 190.1,41.7 192,40.8 194,40 195.9,39.1 197.7,38.3 199.6,37.4 201.4,36.5 203.3,35.6 205.1,34.6 207,33.6 208.8,32.5 210.7,31.5 212.6,30.3 214.6,29.2 216.5,28 218.4,26.7 220.4,25.4 222.2,24 224,22.5 225.8,21.1 227.5,19.6 229.1,18.1 230.7,16.5 232.3,15 233.8,13.5 235.3,11.9 237,10.1 238.6,8.2 240.3,6.2 241.9,4.3 243.4,2.5 244.7,0.8 245.8,-0.5 246.6,-1.5 233.4,-12.5 232.5,-11.5 231.4,-10.1 230,-8.5 228.6,-6.7 227.1,-4.9 225.5,-3.1 224,-1.4 222.7,0.1 221.3,1.6 220,3 218.6,4.5 217.2,5.9 215.9,7.2 214.5,8.5 213.2,9.8 211.8,11 210.3,12.2 208.8,13.4 207.3,14.6 205.7,15.8 204,17 202.4,18.2 200.7,19.3 199,20.4 197.4,21.5 195.8,22.5 194.3,23.5 192.7,24.4 191.1,25.3 189.4,26.3 187.7,27.2 186,28.2 184.2,29.1 182.4,30 180.6,30.9 178.7,31.8 176.8,32.7 174.8,33.6 172.7,34.6 170.5,35.6 168.1,36.7 165.6,37.9 162.9,39.2 160.2,40.4 157.6,41.6 155.1,42.8 152.8,43.8 150.8,44.7 149.2,45.4 147.8,46 146.7,46.4 145.8,46.8 144.9,47.1 144,47.4 142.9,47.7 141.6,48.1 140,48.5 138.3,48.9 136.5,49.4 134.7,49.8 132.8,50.2 131,50.5 129.2,50.8 127.5,51.1 125.8,51.3 124,51.4 122.2,51.5 120.3,51.6 118.5,51.6 116.7,51.6 114.9,51.7 113.3,51.7 111.9,51.8 110.6,51.8 109.3,51.8 108.1,51.8 106.8,51.8 105.4,51.8 104,51.8 102.4,51.8 100.8,51.8 99.1,51.9 97.3,51.9 95.6,51.9 93.8,51.9 91.9,51.9 90,51.9 88.1,51.9 86.1,51.9 83.9,51.9 81.5,51.8 79.2,51.8 77,51.8 75,51.7 73.3,51.7 72,51.7" fill="rgb(112,112,112)" filter="url(#bl9)"/>
<rect x="178" y="27" width="12" height="1.8" fill="rgb(87,87,87)" filter="url(#bl30)"/>
<rect x="183" y="22.5" width="12" height="1.8" fill="rgb(87,87,87)" filter="url(#bl30)"/>
<rect x="189" y="18" width="12" height="1.8" fill="rgb(87,87,87)" filter="url(#bl30)"/>
<rect x="195" y="13.5" width="12" height="1.8" fill="rgb(87,87,87)" filter="url(#bl30)"/>
<rect x="200" y="9" width="13" height="1.8" fill="rgb(87,87,87)" filter="url(#bl30)"/>
<rect x="206" y="4.5" width="13" height="1.8" fill="rgb(87,87,87)" filter="url(#bl30)"/>
<rect x="211" y="0.5" width="12" height="1.8" fill="rgb(87,87,87)" filter="url(#bl30)"/>
<rect x="212" y="36" width="12" height="1.8" fill="rgb(87,87,87)" filter="url(#bl30)"/>
<rect x="217" y="31.5" width="12" height="1.8" fill="rgb(87,87,87)" filter="url(#bl30)"/>
<rect x="222" y="27" width="12" height="1.8" fill="rgb(87,87,87)" filter="url(#bl30)"/>
<rect x="226" y="22.5" width="10" height="1.8" fill="rgb(87,87,87)" filter="url(#bl30)"/>
<rect x="206" y="40.5" width="10" height="1.8" fill="rgb(87,87,87)" filter="url(#bl30)"/>
<polygon points="104,57 105.2,57.1 106.9,57.4 108.8,57.6 111,57.9 113.4,58.1 115.7,58.3 118.1,58.5 120.2,58.5 122.2,58.4 124.2,58.3 126.2,58.1 128.1,57.8 130.1,57.5 132,57.2 133.9,56.8 135.8,56.4 137.7,56 139.6,55.5 141.5,55 143.4,54.5 145.3,54 147.2,53.4 149.2,52.7 151.2,52.1 153.4,51.3 155.6,50.5 158,49.7 160.3,48.8 162.7,47.9 165,47 167.2,46.1 169.2,45.3 171.3,44.4 173.3,43.6 175.4,42.7 177.3,41.8 179.1,41.1 180.7,40.3 182.1,39.7 183.1,39.3 180.9,33.7 179.8,34.1 178.4,34.6 176.8,35.2 174.9,35.8 172.9,36.5 170.9,37.3 168.8,38 166.8,38.7 164.7,39.5 162.5,40.2 160.2,41 157.8,41.9 155.5,42.7 153.1,43.5 150.9,44.2 148.8,44.9 146.8,45.6 144.9,46.3 143,46.9 141.2,47.5 139.5,48.1 137.7,48.6 136,49.1 134.2,49.6 132.4,50.1 130.6,50.5 128.8,50.9 127,51.3 125.2,51.6 123.4,51.9 121.6,52.2 119.8,52.5 117.8,52.8 115.7,53 113.4,53.2 111.1,53.4 108.9,53.6 106.9,53.8 105.3,53.9 104,54" fill="rgb(148,148,148)" filter="url(#bl31)"/>
<ellipse cx="112" cy="56" rx="9" ry="2.4" fill="rgb(168,168,168)" filter="url(#bl26)"/>
<ellipse cx="134" cy="58.5" rx="7.5" ry="2" fill="rgb(204,204,204)" transform="rotate(2 134 58.5)" filter="url(#bl7)"/>
<ellipse cx="152" cy="48.5" rx="12" ry="3" fill="rgb(158,158,158)" transform="rotate(-20 152 48.5)" filter="url(#bl25)"/>
<ellipse cx="190" cy="35" rx="9" ry="3.6" fill="rgb(148,148,148)" transform="rotate(-12 190 35)" filter="url(#bl26)"/>
<ellipse cx="190" cy="35" rx="5.5" ry="2" fill="rgb(189,189,189)" transform="rotate(-12 190 35)" filter="url(#bl32)"/>
<ellipse cx="200.5" cy="28" rx="8.5" ry="3.5" fill="rgb(148,148,148)" transform="rotate(-10 200.5 28)" filter="url(#bl26)"/>
<ellipse cx="200.5" cy="28" rx="5" ry="1.9" fill="rgb(184,184,184)" transform="rotate(-10 200.5 28)" filter="url(#bl32)"/>
<ellipse cx="215.5" cy="17.5" rx="10.5" ry="3.8" fill="rgb(148,148,148)" transform="rotate(-6 215.5 17.5)" filter="url(#bl26)"/>
<ellipse cx="215.5" cy="17.5" rx="7" ry="2.2" fill="rgb(214,214,214)" transform="rotate(-6 215.5 17.5)" filter="url(#bl32)"/>
<ellipse cx="221" cy="11" rx="9" ry="3.5" fill="rgb(148,148,148)" transform="rotate(-5 221 11)" filter="url(#bl26)"/>
<ellipse cx="221" cy="11" rx="5.5" ry="1.9" fill="rgb(209,209,209)" transform="rotate(-5 221 11)" filter="url(#bl32)"/>
<ellipse cx="229" cy="3.5" rx="9" ry="3.6" fill="rgb(148,148,148)" transform="rotate(-5 229 3.5)" filter="url(#bl26)"/>
<ellipse cx="229" cy="3.5" rx="5.5" ry="2" fill="rgb(194,194,194)" transform="rotate(-5 229 3.5)" filter="url(#bl32)"/>
<polygon points="61.9,60.7 63.3,60.9 65.1,61.1 67.2,61.4 69.6,61.7 72.2,62 74.8,62.4 77.4,62.7 79.8,63 82.2,63.3 84.7,63.6 87.3,63.8 89.8,64.1 92.3,64.4 94.8,64.7 97.3,65.1 99.6,65.5 101.9,65.9 104.2,66.4 106.5,66.9 108.7,67.4 111,68 113.1,68.6 115.3,69.1 117.3,69.7 119.2,70.2 120.9,70.9 122.6,71.5 124.4,72.2 126.2,72.8 128.2,73.4 130.3,73.9 132.6,74.3 135.1,74.5 137.5,74.6 140.1,74.6 142.6,74.6 145.2,74.5 147.7,74.4 150.3,74.4 153,74.3 155.7,74.4 158.6,74.4 161.5,74.4 164.5,74.4 167.5,74.5 170.6,74.5 173.7,74.6 176.8,74.7 179.8,74.8 182.8,75 185.8,75.1 188.9,75.3 192,75.5 195.4,75.7 198.9,76 202.7,76.2 207,76.6 212,77 217.3,77.5 222.8,78 228,78.4 232.7,78.9 236.7,79.2 239.6,79.5 240.4,70.5 237.4,70.3 233.5,70 228.7,69.7 223.5,69.3 218,68.9 212.7,68.5 207.7,68.1 203.3,67.8 199.5,67.5 196,67.2 192.7,66.9 189.5,66.6 186.4,66.4 183.4,66.1 180.3,65.9 177.2,65.7 174.1,65.5 170.9,65.4 167.8,65.2 164.7,65.1 161.7,65 158.7,64.9 155.8,64.9 153,64.9 150.2,64.9 147.5,64.9 144.8,65 142.3,65.2 139.9,65.3 137.6,65.3 135.4,65.4 133.4,65.3 131.5,65.2 129.8,65.1 128.1,64.9 126.4,64.6 124.6,64.3 122.7,64 120.8,63.7 118.7,63.3 116.6,63 114.4,62.6 112.2,62.3 109.9,61.9 107.6,61.5 105.2,61.2 102.8,60.8 100.4,60.5 97.9,60.3 95.4,60 92.8,59.8 90.2,59.6 87.6,59.5 85.1,59.3 82.6,59.2 80.2,59 77.7,58.9 75.1,58.7 72.5,58.6 69.9,58.5 67.5,58.4 65.3,58.4 63.5,58.3 62.1,58.3" fill="rgb(92,92,92)" filter="url(#bl26)"/>
<polygon points="63.9,66.5 65.6,66.7 67.7,66.9 70.3,67.2 73.2,67.5 76.2,67.9 79.2,68.2 82.2,68.5 84.9,68.8 87.4,69 89.9,69.3 92.4,69.5 94.9,69.7 97.4,69.9 99.9,70.1 102.3,70.3 104.8,70.5 107.4,70.7 110.3,71 113.2,71.3 116,71.6 118.8,71.9 121.2,72.1 123.3,72.3 124.8,72.5 125.2,68.5 123.7,68.4 121.6,68.1 119.2,67.9 116.5,67.6 113.6,67.3 110.7,67 107.8,66.7 105.2,66.5 102.7,66.3 100.2,66.1 97.7,65.9 95.2,65.8 92.7,65.6 90.2,65.5 87.7,65.3 85.1,65.2 82.4,65.1 79.4,65 76.4,64.9 73.3,64.8 70.5,64.7 67.9,64.6 65.7,64.6 64.1,64.5" fill="rgb(94,94,94)" filter="url(#bl5)"/>
<polygon points="117.6,68.1 118.7,68.4 120.1,68.9 121.8,69.4 123.8,70 125.9,70.6 128.1,71.2 130.5,71.7 132.8,72 135.1,72.2 137.6,72.3 140,72.3 142.5,72.2 145.1,72.1 147.7,72 150.3,72 153,72 155.8,72 158.6,72 161.6,72.1 164.6,72.1 167.6,72.2 170.7,72.2 173.8,72.3 176.9,72.4 180,72.6 183,72.7 186,72.9 189,73.1 192.2,73.3 195.5,73.6 199,73.8 202.8,74.1 207.2,74.5 212.2,74.9 217.5,75.3 222.9,75.8 228.2,76.2 232.9,76.6 236.9,77 239.8,77.2 240.2,72.8 237.3,72.5 233.3,72.2 228.5,71.8 223.3,71.4 217.9,71 212.5,70.6 207.5,70.2 203.2,69.9 199.4,69.6 195.8,69.3 192.5,69 189.3,68.8 186.3,68.5 183.2,68.3 180.2,68.1 177.1,68 174,67.8 170.8,67.7 167.7,67.5 164.7,67.4 161.7,67.4 158.7,67.3 155.8,67.3 153,67.2 150.2,67.2 147.5,67.3 144.9,67.4 142.4,67.5 139.9,67.6 137.6,67.7 135.3,67.6 133.2,67.6 131.1,67.4 128.9,67.1 126.8,66.7 124.7,66.3 122.8,65.9 121,65.5 119.5,65.2 118.4,64.9" fill="url(#lg3)" filter="url(#bl5)"/>
<ellipse cx="153" cy="69.6" rx="8.5" ry="1.9" fill="rgb(235,235,235)" filter="url(#bl32)"/>
<ellipse cx="177.5" cy="70.2" rx="6.5" ry="1.8" fill="rgb(230,230,230)" filter="url(#bl32)"/>
<ellipse cx="166" cy="70" rx="3" ry="1.6" fill="rgb(158,158,158)" filter="url(#bl27)"/>
<ellipse cx="231" cy="74.5" rx="7" ry="2.3" fill="rgb(199,199,199)" transform="rotate(3 231 74.5)" filter="url(#bl5)"/>
<ellipse cx="167.5" cy="55.3" rx="10" ry="3.6" fill="rgb(97,97,97)" filter="url(#bl25)"/>
<ellipse cx="167.5" cy="55.3" rx="6" ry="2.3" fill="rgb(158,158,158)" filter="url(#bl7)"/>
<ellipse cx="167.5" cy="55.3" rx="2.5" ry="1.2" fill="rgb(184,184,184)" filter="url(#bl33)"/>
<path d="M 181,61.5 C 188,60.5 195,58 202,54.5" fill="none" stroke="rgb(97,97,97)" stroke-width="3.4" stroke-linecap="round" stroke-linejoin="round" filter="url(#bl5)"/>
<ellipse cx="200" cy="60" rx="2.8" ry="1.5" fill="rgb(94,94,94)" filter="url(#bl28)"/>
<ellipse cx="206" cy="56.5" rx="2.8" ry="1.5" fill="rgb(94,94,94)" filter="url(#bl28)"/>
<ellipse cx="212" cy="60" rx="2.8" ry="1.5" fill="rgb(94,94,94)" filter="url(#bl28)"/>
<ellipse cx="218" cy="56.5" rx="2.8" ry="1.5" fill="rgb(94,94,94)" filter="url(#bl28)"/>
<ellipse cx="224" cy="60" rx="2.8" ry="1.5" fill="rgb(94,94,94)" filter="url(#bl28)"/>
<ellipse cx="230" cy="56.5" rx="2.8" ry="1.5" fill="rgb(94,94,94)" filter="url(#bl28)"/>
<ellipse cx="224" cy="53" rx="2.8" ry="1.5" fill="rgb(94,94,94)" filter="url(#bl28)"/>
<ellipse cx="233" cy="60" rx="2.8" ry="1.5" fill="rgb(94,94,94)" filter="url(#bl28)"/>
<rect x="208" y="61.6" width="30" height="2.6" fill="rgb(102,102,102)" filter="url(#bl34)"/>
</g>
<g class="g"><line x1="20.3" y1="0" x2="20.3" y2="233"/><line x1="73.5" y1="0" x2="73.5" y2="233"/><line x1="126.7" y1="0" x2="126.7" y2="233"/><line x1="179.9" y1="0" x2="179.9" y2="233"/><line x1="0" y1="38.7" x2="233" y2="38.7"/><line x1="0" y1="77.4" x2="233" y2="77.4"/><line x1="0" y1="116.1" x2="233" y2="116.1"/><line x1="0" y1="154.8" x2="233" y2="154.8"/><line x1="0" y1="193.5" x2="233" y2="193.5"/></g>
<rect x="0.4" y="0.4" width="232.2" height="232.2" fill="none" stroke="#141a46" stroke-opacity=".55" stroke-width=".8"/>
</g>
<g transform="translate(102,257.5)" clip-path="url(#cp01)">
<g filter="url(#cm)">
<rect x="0" y="0" width="233" height="233" fill="#0d0d0d"/>
<rect x="-5" y="-5" width="243" height="243" fill="rgb(32,32,32)"/>
<rect x="-5" y="-5" width="70" height="50" fill="rgb(23,23,23)" filter="url(#bl35)"/>
<rect x="120" y="100" width="120" height="90" fill="rgb(36,36,36)" filter="url(#bl36)"/>
<rect x="2" y="57.9" width="22" height="3.2" fill="rgb(69,69,69)" filter="url(#bl37)"/>
<rect x="36" y="58" width="12" height="3" fill="rgb(84,84,84)" filter="url(#bl17)"/>
<ellipse cx="40" cy="53.5" rx="3" ry="1.5" fill="rgb(51,51,51)" filter="url(#bl26)"/>
<rect x="54" y="55.5" width="100" height="8" fill="rgb(48,48,48)" filter="url(#bl14)"/>
<rect x="74" y="57.1" width="78" height="4.8" fill="rgb(74,74,74)" filter="url(#bl38)"/>
<rect x="58" y="57.9" width="94" height="3.2" fill="url(#lg4)" filter="url(#bl39)"/>
<ellipse cx="152" cy="56.7" rx="2.2" ry="1.3" fill="rgb(97,97,97)" filter="url(#bl28)"/>
<ellipse cx="153" cy="62.7" rx="2.2" ry="1.3" fill="rgb(97,97,97)" filter="url(#bl28)"/>
<ellipse cx="110" cy="55.5" rx="14" ry="1.5" fill="rgb(76,76,76)" filter="url(#bl17)"/>
<rect x="160" y="55" width="80" height="9" fill="rgb(51,51,51)" filter="url(#bl14)"/>
<rect x="164" y="56.7" width="74" height="5.6" fill="rgb(76,76,76)" filter="url(#bl37)"/>
<rect x="162" y="57.7" width="76" height="3.6" fill="url(#lg5)" filter="url(#bl40)"/>
<ellipse cx="212" cy="59.5" rx="6" ry="4.2" fill="rgb(140,140,140)" filter="url(#bl4)"/>
<ellipse cx="212" cy="59.5" rx="4" ry="1.5" fill="rgb(189,189,189)" filter="url(#bl27)"/>
<rect x="168" y="53.9" width="58" height="2.4" fill="rgb(76,76,76)" filter="url(#bl41)"/>
<rect x="172" y="63.1" width="50" height="2.6" fill="rgb(76,76,76)" filter="url(#bl38)"/>
<ellipse cx="205" cy="65" rx="8" ry="1.8" fill="rgb(76,76,76)" filter="url(#bl15)"/>
<rect x="100" y="54.5" width="46" height="2.2" fill="rgb(69,69,69)" filter="url(#bl41)"/>
<rect x="110" y="62.9" width="40" height="2.2" fill="rgb(69,69,69)" filter="url(#bl41)"/>
<ellipse cx="212" cy="53" rx="2.5" ry="1.5" fill="rgb(76,76,76)" filter="url(#bl5)"/>
<path d="M 134,21.5 C 145,20.5 155,18.5 163,18" fill="none" stroke="rgb(61,61,61)" stroke-width="3.4" stroke-linecap="round" stroke-linejoin="round" filter="url(#bl26)"/>
<ellipse cx="194" cy="22" rx="3" ry="5" fill="rgb(46,46,46)" filter="url(#bl9)"/>
<ellipse cx="192" cy="120" rx="3" ry="5" fill="rgb(41,41,41)" filter="url(#bl8)"/>
<polygon points="45.8,203 59.6,206.5 60.4,202.5 46.2,201" fill="rgb(51,51,51)" filter="url(#bl9)"/>
<polygon points="44,201.5 46.1,201.8 48.8,202.3 52.1,202.8 55.7,203.4 59.5,204 63.5,204.6 67.3,205.1 71,205.5 74.5,205.8 77.9,206.1 81.3,206.2 84.8,206.4 88.4,206.5 92.1,206.7 95.9,206.8 100,207 104.2,207.2 108.6,207.4 113.1,207.6 117.7,207.8 122.5,207.9 127.4,208.1 132.6,208.3 138,208.5 143.7,208.7 149.6,208.8 155.8,209 162.1,209.2 168.6,209.3 175.1,209.5 181.6,209.8 188,210 194.8,210.3 202.1,210.7 209.6,211.1 217.1,211.5 224.2,211.9 230.6,212.3 236,212.6 240,212.8 240,234 238.5,233.9 236.7,233.8 234.5,233.6 232,233.5 229.3,233.3 226.3,233.1 223.2,232.8 220,232.5 216.7,232.2 213.3,231.8 209.7,231.4 205.9,231 201.8,230.5 197.5,230 192.9,229.5 188,229 182.5,228.5 176.5,227.9 170,227.3 163.4,226.7 156.7,226.1 150.1,225.4 143.8,224.7 138,224 132.6,223.2 127.2,222.4 122.1,221.6 117.1,220.7 112.4,219.9 108,219 103.8,218.2 100,217.5 96.6,216.8 93.7,216.2 91.1,215.7 88.8,215.2 86.6,214.6 84.4,214.1 82.3,213.6 80,213 77.5,212.4 74.9,211.7 72.3,210.9 69.8,210.2 67.3,209.5 65.2,208.9 63.4,208.4 62,208" fill="rgb(74,74,74)" filter="url(#bl4)"/>
<polygon points="61.9,208.5 63.2,208.8 65,209.2 67.1,209.6 69.5,210.2 72.1,210.7 74.7,211.2 77.3,211.8 79.7,212.2 82.1,212.7 84.3,213.1 86.6,213.5 89,213.9 91.4,214.3 94,214.7 96.7,215.1 99.7,215.5 103.1,215.9 106.8,216.3 110.8,216.7 114.9,217.1 118.9,217.5 122.8,217.8 126.5,218.2 129.7,218.5 132.4,218.8 134.7,219 136.8,219.2 138.7,219.5 140.7,219.7 142.7,219.9 145,220.1 147.6,220.3 150.6,220.6 153.8,220.8 157.2,221.1 160.7,221.3 164.3,221.6 167.8,221.9 171.2,222.2 174.6,222.5 177.8,222.9 181,223.3 184.2,223.7 187.4,224.1 190.5,224.6 193.5,225 196.5,225.5 199.3,226 201.9,226.4 204.4,226.9 206.9,227.4 209.2,228 211.6,228.5 214,229 216.5,229.5 219.2,229.9 222,230.4 225.1,230.8 228.3,231.3 231.5,231.7 234.5,232.1 237.3,232.4 239.5,232.7 241.2,233 242.8,219 241,218.9 238.7,218.7 236,218.4 233,218.2 229.8,217.9 226.6,217.6 223.6,217.3 220.8,217.1 218.3,216.8 215.9,216.6 213.5,216.3 211.1,216.1 208.7,215.8 206.2,215.6 203.5,215.3 200.7,215 197.8,214.8 194.8,214.5 191.7,214.3 188.5,214.1 185.3,213.8 182,213.6 178.7,213.3 175.4,213.1 172.1,212.8 168.6,212.5 165,212.2 161.4,211.9 157.9,211.6 154.5,211.4 151.3,211.1 148.4,210.9 145.8,210.7 143.6,210.5 141.6,210.3 139.6,210.1 137.7,210 135.5,209.8 133.1,209.7 130.3,209.5 127.1,209.4 123.4,209.2 119.5,209.1 115.4,209 111.3,208.8 107.3,208.7 103.6,208.6 100.3,208.5 97.3,208.4 94.5,208.3 92,208.2 89.5,208.2 87.2,208.1 84.9,208 82.6,207.9 80.3,207.8 77.8,207.6 75.2,207.5 72.6,207.3 70,207.1 67.5,206.9 65.4,206.7 63.5,206.6 62.1,206.5" fill="url(#lg6)" filter="url(#bl31)"/>
<polygon points="165,214.5 166.6,214.5 168.6,214.6 171.1,214.7 173.8,214.7 176.7,214.8 179.6,214.9 182.4,214.9 185,215 187.5,215.1 189.9,215.1 192.3,215.2 194.7,215.3 197.2,215.3 199.7,215.4 202.3,215.5 205,215.5 207.8,215.5 211,215.5 214.4,215.5 217.7,215.5 220.9,215.5 223.8,215.5 226.2,215.5 228,215.5 228,212.5 226.2,212.4 223.8,212.3 221,212.2 217.8,212 214.5,211.9 211.1,211.7 207.9,211.6 205,211.5 202.4,211.4 199.9,211.3 197.3,211.2 194.9,211.1 192.4,211 190,211 187.5,211 185,211 182.3,211.1 179.5,211.3 176.6,211.5 173.7,211.7 171,212 168.6,212.2 166.5,212.4 165,212.5" fill="url(#lg7)" filter="url(#bl26)"/>
<ellipse cx="148" cy="215.6" rx="6" ry="2.6" fill="rgb(168,168,168)" filter="url(#bl26)"/>
<ellipse cx="116" cy="213.2" rx="6" ry="2" fill="rgb(148,148,148)" filter="url(#bl26)"/>
<ellipse cx="234" cy="226" rx="7" ry="3.5" fill="rgb(255,255,255)" filter="url(#bl9)"/>
</g>
<g class="g"><line x1="39.3" y1="0" x2="39.3" y2="233"/><line x1="82.1" y1="0" x2="82.1" y2="233"/><line x1="124.9" y1="0" x2="124.9" y2="233"/><line x1="167.7" y1="0" x2="167.7" y2="233"/><line x1="210.5" y1="0" x2="210.5" y2="233"/><line x1="0" y1="38.7" x2="233" y2="38.7"/><line x1="0" y1="77.4" x2="233" y2="77.4"/><line x1="0" y1="116.1" x2="233" y2="116.1"/><line x1="0" y1="154.8" x2="233" y2="154.8"/><line x1="0" y1="193.5" x2="233" y2="193.5"/></g>
<rect x="0.4" y="0.4" width="232.2" height="232.2" fill="none" stroke="#141a46" stroke-opacity=".55" stroke-width=".8"/>
</g>
<g transform="translate(347,257.5)" clip-path="url(#cp11)">
<g filter="url(#cm)">
<rect x="0" y="0" width="233" height="233" fill="#0d0d0d"/>
<rect x="-5" y="-5" width="243" height="243" fill="rgb(31,31,31)"/>
<polygon points="-5,105 90,100 150,150 130,240 -5,240" fill="rgb(22,22,22)" filter="url(#bl42)"/>
<polygon points="150,20 240,10 240,120 170,100" fill="rgb(34,34,34)" filter="url(#bl42)"/>
<path d="M -5,42 C 30,22 60,6 100,-5" fill="none" stroke="rgb(22,22,22)" stroke-width="13" stroke-linecap="round" stroke-linejoin="round" filter="url(#bl43)"/>
<path d="M 18,78 C 80,48 150,40 240,54" fill="none" stroke="rgb(22,22,22)" stroke-width="8" stroke-linecap="round" stroke-linejoin="round" filter="url(#bl44)"/>
<path d="M 10,114 C 80,86 150,80 240,100" fill="none" stroke="rgb(22,22,22)" stroke-width="8" stroke-linecap="round" stroke-linejoin="round" filter="url(#bl44)"/>
<path d="M 60,152 C 120,124 180,128 240,144" fill="none" stroke="rgb(22,22,22)" stroke-width="8" stroke-linecap="round" stroke-linejoin="round" filter="url(#bl44)"/>
<path d="M 20,194 C 60,174 100,164 150,168" fill="none" stroke="rgb(22,22,22)" stroke-width="8" stroke-linecap="round" stroke-linejoin="round" filter="url(#bl44)"/>
<path d="M 150,62 C 180,72 200,102 205,150" fill="none" stroke="rgb(23,23,23)" stroke-width="8" stroke-linecap="round" stroke-linejoin="round" filter="url(#bl44)"/>
<path d="M 60,64 C 100,70 130,60 160,66" fill="none" stroke="rgb(23,23,23)" stroke-width="6" stroke-linecap="round" stroke-linejoin="round" filter="url(#bl2)"/>
<path d="M 39,46 C 47,37 59,29.5 74,24" fill="none" stroke="rgb(74,74,74)" stroke-width="6.4" stroke-linecap="round" stroke-linejoin="round" filter="url(#bl45)"/>
<path d="M 95.5,25.4 C 106,23.5 116,21 125,18.7" fill="none" stroke="rgb(74,74,74)" stroke-width="6" stroke-linecap="round" stroke-linejoin="round" filter="url(#bl45)"/>
<path d="M 123,19.2 C 135,14.5 150,12 171.6,14" fill="none" stroke="rgb(79,79,79)" stroke-width="6.4" stroke-linecap="round" stroke-linejoin="round" filter="url(#bl9)"/>
<path d="M 128,16.8 C 134,14.6 139,13.8 145,13.2" fill="none" stroke="rgb(92,92,92)" stroke-width="3.4" stroke-linecap="round" stroke-linejoin="round" filter="url(#bl7)"/>
<ellipse cx="180" cy="15.6" rx="3.6" ry="3.8" fill="rgb(84,84,84)" filter="url(#bl46)"/>
<ellipse cx="27.3" cy="59.3" rx="2.6" ry="2.4" fill="rgb(89,89,89)" filter="url(#bl32)"/>
<ellipse cx="7.8" cy="58.5" rx="3.5" ry="1.6" fill="rgb(54,54,54)" filter="url(#bl26)"/>
<ellipse cx="84" cy="3" rx="5.5" ry="2" fill="rgb(74,74,74)" filter="url(#bl7)"/>
<ellipse cx="179.4" cy="106" rx="4.2" ry="6.5" fill="rgb(73,73,73)" transform="rotate(-12 179.4 106)" filter="url(#bl31)"/>
<ellipse cx="185" cy="115" rx="3" ry="4" fill="rgb(64,64,64)" filter="url(#bl25)"/>
<ellipse cx="191" cy="124" rx="3.4" ry="3.4" fill="rgb(71,71,71)" filter="url(#bl46)"/>
<ellipse cx="195" cy="90.5" rx="2.2" ry="2.2" fill="rgb(64,64,64)" filter="url(#bl5)"/>
<ellipse cx="128" cy="44" rx="2" ry="2" fill="rgb(51,51,51)" filter="url(#bl26)"/>
<rect x="108" y="200.3" width="135" height="12" fill="rgb(48,48,48)" filter="url(#bl47)"/>
<ellipse cx="58" cy="210.5" rx="9" ry="1.7" fill="rgb(61,61,61)" filter="url(#bl25)"/>
<path d="M 84,214.3 L 160,218.2" fill="none" stroke="url(#lg8)" stroke-width="3.2" stroke-linecap="round" stroke-linejoin="round" filter="url(#bl48)"/>
<rect x="160" y="215" width="50" height="2.4" fill="rgb(76,76,76)" filter="url(#bl17)"/>
<path d="M 146,196.3 C 153,194.6 162,194.2 168,194.8 C 175,196 181,199.5 192,204.6" fill="none" stroke="rgb(107,107,107)" stroke-width="4.4" stroke-linecap="round" stroke-linejoin="round" filter="url(#bl7)"/>
<path d="M 152,195.3 C 158,194.6 163,194.5 168,195" fill="none" stroke="rgb(128,128,128)" stroke-width="2.2" stroke-linecap="round" stroke-linejoin="round" filter="url(#bl27)"/>
<path d="M 186.5,202.4 C 200,199.8 215,197 240,190.8" fill="none" stroke="url(#lg9)" stroke-width="4.6" stroke-linecap="round" stroke-linejoin="round" filter="url(#bl7)"/>
<path d="M 192,201.6 L 240,198" fill="none" stroke="url(#lg10)" stroke-width="2.8" stroke-linecap="round" stroke-linejoin="round" filter="url(#bl32)"/>
<rect x="113" y="204.4" width="130" height="3.8" fill="url(#lg11)" filter="url(#bl49)"/>
<rect x="182" y="210.6" width="60" height="2.6" fill="rgb(94,94,94)" filter="url(#bl17)"/>
<rect x="195" y="214.8" width="48" height="2.4" fill="rgb(84,84,84)" filter="url(#bl17)"/>
<rect x="218" y="220.6" width="25" height="2.2" fill="rgb(71,71,71)" filter="url(#bl17)"/>
<rect x="73" y="207.5" width="10" height="2" fill="rgb(56,56,56)" filter="url(#bl17)"/>
</g>
<g class="g"><line x1="20.3" y1="0" x2="20.3" y2="233"/><line x1="73.5" y1="0" x2="73.5" y2="233"/><line x1="126.7" y1="0" x2="126.7" y2="233"/><line x1="179.9" y1="0" x2="179.9" y2="233"/><line x1="0" y1="38.7" x2="233" y2="38.7"/><line x1="0" y1="77.4" x2="233" y2="77.4"/><line x1="0" y1="116.1" x2="233" y2="116.1"/><line x1="0" y1="154.8" x2="233" y2="154.8"/><line x1="0" y1="193.5" x2="233" y2="193.5"/></g>
<rect x="0.4" y="0.4" width="232.2" height="232.2" fill="none" stroke="#141a46" stroke-opacity=".55" stroke-width=".8"/>
</g>
<g transform="translate(102,502)" clip-path="url(#cp02)">
<g filter="url(#cm)">
<rect x="0" y="0" width="233" height="233" fill="#0d0d0d"/>
<rect x="-5" y="-5" width="243" height="243" fill="rgb(29,29,29)"/>
<rect x="-5" y="-5" width="60" height="50" fill="rgb(23,23,23)" filter="url(#bl42)"/>
<polygon points="88,128 216,134 216,160 88,160" fill="rgb(17,17,17)" filter="url(#bl50)"/>
<rect x="214" y="100" width="9" height="116" fill="rgb(18,18,18)" filter="url(#bl51)"/>
<rect x="150" y="92" width="66" height="22" fill="rgb(43,43,43)" filter="url(#bl52)"/>
<rect x="120" y="18" width="100" height="12" fill="rgb(38,38,38)" filter="url(#bl12)"/>
<rect x="211" y="15" width="7.5" height="103" fill="rgb(61,61,61)" filter="url(#bl53)"/>
<polygon points="30,57 33.2,56.3 37.4,55.3 42.5,54.2 48.1,52.9 54,51.6 59.8,50.3 65.2,49.1 70,48 74.2,47 78.2,46.1 82,45.2 85.6,44.3 89.2,43.5 92.7,42.6 96.3,41.8 100,41 103.8,40.2 107.6,39.4 111.5,38.6 115.4,37.8 119.2,37 122.9,36.3 126.5,35.6 130,35 133.2,34.4 136.2,34 139.1,33.5 141.9,33.1 144.7,32.7 147.6,32.4 150.7,31.9 154,31.5 157.6,31 161.3,30.5 165.2,30 169.2,29.5 173.4,29 177.5,28.5 181.8,28 186,27.5 190.6,27 195.6,26.4 200.8,25.8 206,25.2 211,24.7 215.4,24.2 219.2,23.8 222,23.5 222,60 30,60" fill="rgb(69,69,69)" filter="url(#bl8)"/>
<polygon points="2,60 4.6,59.8 8.1,59.4 12.3,59.1 16.9,58.7 21.8,58.2 26.7,57.7 31.5,57.1 36,56.5 40.3,55.8 44.6,55.1 48.9,54.3 53.2,53.4 57.5,52.5 61.8,51.7 65.9,50.8 70,50 73.9,49.2 77.8,48.5 81.5,47.7 85.2,46.9 88.9,46.2 92.6,45.5 96.3,44.7 100,44 103.8,43.3 107.6,42.5 111.5,41.8 115.4,41.1 119.2,40.4 122.9,39.7 126.5,39.1 130,38.5 133.2,38 136.2,37.6 139.1,37.2 141.9,36.9 144.7,36.6 147.6,36.3 150.7,35.9 154,35.5 157.6,35 161.3,34.6 165.2,34.1 169.2,33.6 173.4,33 177.5,32.5 181.8,32 186,31.5 190.6,31 195.6,30.4 200.8,29.8 206,29.2 211,28.7 215.4,28.2 219.2,27.8 222,27.5 222,85 219.5,84.9 216.2,84.7 212.3,84.6 208,84.4 203.4,84.2 198.8,83.9 194.2,83.7 190,83.5 186,83.3 181.9,83 177.8,82.8 173.8,82.5 169.7,82.3 165.7,82 161.8,81.8 158,81.5 154.3,81.3 150.8,81 147.3,80.8 143.9,80.6 140.5,80.4 137,80.1 133.6,79.8 130,79.5 126.4,79.2 122.9,78.8 119.3,78.4 115.8,78 112.1,77.6 108.2,77.1 104.2,76.6 100,76 95.4,75.4 90.5,74.7 85.3,73.9 80,73.1 74.7,72.3 69.5,71.5 64.6,70.7 60,70 55.8,69.3 51.8,68.6 47.9,67.9 44.2,67.2 40.7,66.5 37.1,65.8 33.6,65.1 30,64.5 26.2,63.9 22.2,63.2 18.1,62.5 14.1,61.9 10.4,61.3 7,60.8 4.1,60.3 2,60" fill="rgb(84,84,84)" filter="url(#bl4)"/>
<polygon points="104,58 104.5,57 105.2,55.7 106,54 106.9,52.3 107.9,50.5 109.1,48.8 110.5,47.2 112,46 113.7,45.1 115.7,44.3 117.8,43.7 120,43.2 122.4,42.8 124.8,42.4 127.4,42 130,41.5 132.7,41 135.4,40.6 138.2,40.1 141.1,39.7 144.2,39.3 147.3,38.9 150.6,38.5 154,38 157.6,37.5 161.3,37 165.2,36.5 169.2,36 173.4,35.5 177.5,35 181.8,34.5 186,34 190.6,33.5 195.6,32.9 200.8,32.3 206,31.8 211,31.2 215.4,30.7 219.2,30.3 222,30 222,83.5 219.5,83.4 216.2,83.2 212.3,83.1 208,82.9 203.4,82.7 198.8,82.4 194.2,82.2 190,82 186,81.8 181.9,81.5 177.8,81.3 173.8,81.1 169.7,80.8 165.7,80.5 161.8,80.3 158,80 154.3,79.7 150.6,79.4 146.9,79.1 143.4,78.8 139.9,78.5 136.5,78.2 133.2,77.9 130,77.5 126.9,77.2 123.8,76.8 120.7,76.5 117.8,76.2 115,75.8 112.4,75.4 110,74.8 108,74 106.3,73 104.8,71.7 103.6,70.3 102.6,68.8 101.8,67.3 101.1,65.9 100.5,64.8 100,64" fill="rgb(107,107,107)" filter="url(#bl9)"/>
<g filter="url(#bl54)"><g clip-path="url(#cl1)">
<polygon points="36,58.5 38.7,58.1 42.2,57.5 46.4,56.8 51.1,56.1 56,55.3 61,54.5 65.7,53.7 70,53 73.9,52.3 77.8,51.7 81.5,51 85.2,50.3 88.9,49.7 92.6,49 96.3,48.4 100,47.8 103.8,47.2 107.6,46.6 111.5,46 115.4,45.5 119.2,44.9 122.9,44.4 126.5,43.9 130,43.5 133.2,43.1 136.2,42.8 139.1,42.5 141.9,42.2 144.7,41.9 147.6,41.6 150.7,41.3 154,41 157.6,40.6 161.3,40.3 165.2,39.9 169.2,39.5 173.4,39.1 177.5,38.8 181.8,38.4 186,38 190.6,37.6 195.6,37.2 200.8,36.7 206,36.3 211,35.9 215.4,35.5 219.2,35.2 222,35 222,75 36,75" fill="url(#lg12)" filter="url(#bl6)"/>
</g></g>
<g filter="url(#bl54)"><g clip-path="url(#cl2)">
<polygon points="30,45 222,45 222,80.5 219.5,80.4 216.2,80.2 212.3,80.1 208,79.9 203.4,79.7 198.8,79.4 194.2,79.2 190,79 186,78.8 181.9,78.5 177.8,78.3 173.8,78 169.7,77.8 165.7,77.5 161.8,77.3 158,77 154.3,76.7 150.8,76.5 147.3,76.2 143.9,76 140.5,75.7 137,75.4 133.6,75.1 130,74.8 126.4,74.5 122.9,74.1 119.3,73.7 115.8,73.3 112.1,72.9 108.2,72.5 104.2,72 100,71.5 95.4,71 90.5,70.4 85.3,69.7 80,69.1 74.7,68.4 69.5,67.8 64.6,67.1 60,66.5 55.6,65.9 51.1,65.2 46.7,64.6 42.5,63.9 38.6,63.3 35.2,62.8 32.2,62.3 30,62" fill="url(#lg13)" filter="url(#bl8)"/>
</g></g>
<g filter="url(#bl55)"><g clip-path="url(#cl3)">
<polygon points="140,56 180,50 222,40.5 222,70 140,70" fill="url(#lg14)" filter="url(#bl4)"/>
</g></g>
<g filter="url(#bl55)"><g clip-path="url(#cl4)">
<polygon points="160,50 222,50 222,75 195,70 160,65" fill="url(#lg15)" filter="url(#bl25)"/>
</g></g>
<rect x="100" y="55.5" width="120" height="3.4" fill="url(#lg16)" filter="url(#bl56)"/>
<rect x="48" y="56.1" width="80" height="1.7" fill="url(#lg17)" filter="url(#bl57)"/>
<polygon points="6,60 40,58.7 222,59.4 222,62.6 40,61.5" fill="url(#lg18)" filter="url(#bl28)"/>
<g filter="url(#bl55)"><g clip-path="url(#cl5)">
<ellipse cx="210" cy="52" rx="10" ry="5" fill="rgb(252,252,252)" filter="url(#bl8)"/>
</g></g>
<rect x="218.5" y="-5" width="30" height="243" fill="rgb(22,22,22)"/>
</g>
<g class="g"><line x1="39.3" y1="0" x2="39.3" y2="233"/><line x1="82.1" y1="0" x2="82.1" y2="233"/><line x1="124.9" y1="0" x2="124.9" y2="233"/><line x1="167.7" y1="0" x2="167.7" y2="233"/><line x1="210.5" y1="0" x2="210.5" y2="233"/><line x1="0" y1="38.7" x2="233" y2="38.7"/><line x1="0" y1="77.4" x2="233" y2="77.4"/><line x1="0" y1="116.1" x2="233" y2="116.1"/><line x1="0" y1="154.8" x2="233" y2="154.8"/><line x1="0" y1="193.5" x2="233" y2="193.5"/></g>
<rect x="0.4" y="0.4" width="232.2" height="232.2" fill="none" stroke="#141a46" stroke-opacity=".55" stroke-width=".8"/>
</g>
<g transform="translate(347,502)" clip-path="url(#cp12)">
<g filter="url(#cm)">
<rect x="0" y="0" width="233" height="233" fill="#0d0d0d"/>
<rect x="-5" y="-5" width="243" height="243" fill="rgb(15,15,15)"/>
<polygon points="0,58 240,80 240,150 120,122 40,92" fill="rgb(38,38,38)" filter="url(#bl58)"/>
<polygon points="40,66 240,86 240,120 120,100" fill="rgb(51,51,51)" filter="url(#bl59)"/>
<polygon points="40,50 120,22 165,-8 245,-8 245,45 60,50" fill="rgb(51,51,51)" filter="url(#bl59)"/>
<polygon points="100,42 118,36 150,30 181,21.5 210,11.5 236,1 245,-4 245,45 100,45" fill="rgb(94,94,94)" filter="url(#bl60)"/>
<polygon points="10,60 12.1,60.8 14.8,61.8 17.9,63.1 21.5,64.5 25.4,65.9 29.5,67.4 33.7,68.8 38,70 42.4,71.2 47.2,72.3 52.1,73.4 57.2,74.5 62.5,75.6 67.7,76.6 72.9,77.6 78,78.5 82.8,79.3 87.5,80.1 92,80.8 96.6,81.4 101.3,82.1 106.4,82.7 111.9,83.3 118,84 124.8,84.7 132.2,85.4 140.1,86.1 148.3,86.8 156.7,87.5 165,88.2 173.2,88.9 181,89.5 189,90.1 197.4,90.7 206,91.3 214.4,91.8 222.4,92.4 229.5,92.8 235.5,93.2 240,93.5 240,60" fill="rgb(61,61,61)" filter="url(#bl2)"/>
<polygon points="3,57.4 4.1,57 5.6,56.5 7.3,55.9 9.2,55.3 11.3,54.6 13.5,53.8 15.8,53.1 18,52.3 20.3,51.5 22.6,50.6 25.1,49.7 27.7,48.8 30.3,47.9 32.9,47 35.5,46.1 38,45.3 40.5,44.6 43,43.9 45.5,43.2 48,42.6 50.5,42 53,41.4 55.5,40.8 58,40.3 60.5,39.8 63,39.3 65.5,38.8 68,38.4 70.5,38 73,37.6 75.5,37.2 78,36.8 80.5,36.4 83,36.1 85.5,35.8 88,35.4 90.5,35.1 93,34.9 95.5,34.6 98,34.3 100.4,34 102.7,33.8 105,33.5 107.2,33.3 109.6,33.1 112.2,32.9 114.9,32.7 118,32.5 121.4,32.3 125.2,32.2 129.2,32 133.3,31.9 137.5,31.7 141.8,31.6 146,31.4 150,31.3 153.7,31.2 157.2,31.1 160.5,31 163.8,30.9 167.4,30.8 171.3,30.7 175.8,30.5 181,30.3 187.4,30 195.2,29.7 203.7,29.3 212.4,28.8 221,28.4 228.7,28 235.3,27.7 240,27.5 240,87.5 235.3,87.2 228.7,86.9 221,86.5 212.4,86 203.7,85.6 195.2,85.1 187.4,84.7 181,84.3 175.8,84 171.3,83.7 167.4,83.4 163.8,83.2 160.5,83 157.2,82.7 153.7,82.5 150,82.2 146,81.9 141.8,81.6 137.5,81.3 133.3,80.9 129.2,80.6 125.2,80.3 121.4,80 118,79.7 114.9,79.4 112.2,79.2 109.6,78.9 107.2,78.7 105,78.5 102.7,78.2 100.4,78 98,77.7 95.5,77.4 93,77.1 90.5,76.8 88,76.5 85.5,76.2 83,75.9 80.5,75.6 78,75.2 75.5,74.8 73,74.4 70.5,74 68,73.5 65.5,73.1 63,72.6 60.5,72.2 58,71.7 55.5,71.2 53,70.8 50.5,70.3 48,69.8 45.5,69.3 43,68.8 40.5,68.3 38,67.7 35.5,67.1 32.9,66.5 30.3,65.9 27.7,65.3 25.1,64.6 22.6,64 20.3,63.3 18,62.7 15.8,62 13.5,61.3 11.3,60.5 9.2,59.7 7.3,59 5.6,58.4 4.1,57.8 3,57.4" fill="url(#lg19)" filter="url(#bl9)"/>
<ellipse cx="38" cy="57.4" rx="6" ry="1.3" fill="rgb(38,38,38)" filter="url(#bl32)"/>
<ellipse cx="24" cy="57.4" rx="5" ry="1.2" fill="rgb(92,92,92)" filter="url(#bl5)"/>
<polygon points="62.1,50 63.4,49.9 65.1,49.8 67.1,49.7 69.3,49.5 71.8,49.4 74.4,49.2 77.2,49.1 80.1,49 83.2,48.9 86.5,48.8 90.1,48.8 93.7,48.7 97.6,48.7 101.6,48.6 105.8,48.6 110.1,48.5 114.9,48.4 120.4,48.4 126.2,48.3 132,48.2 137.6,48.1 142.7,48.1 147,48 150.1,48 149.9,40 146.7,40.2 142.4,40.5 137.4,40.8 131.7,41.1 125.9,41.5 120.1,41.8 114.7,42.2 109.9,42.5 105.6,42.8 101.4,43.1 97.4,43.4 93.5,43.7 89.8,44 86.3,44.3 83,44.7 79.9,45 76.9,45.4 74.1,45.8 71.4,46.2 69,46.7 66.7,47.1 64.8,47.5 63.2,47.8 61.9,48" fill="url(#lg20)" filter="url(#bl7)"/>
<polygon points="62,58.4 63.3,58.5 65,58.6 66.9,58.7 69.1,58.8 71.6,58.9 74.2,59 77.1,59.1 80,59.1 83.1,59.2 86.4,59.2 89.9,59.2 93.6,59.2 97.5,59.2 101.5,59.2 105.7,59.2 110,59.2 114.8,59.2 120.2,59.2 126,59.1 131.9,59.1 137.5,59.1 142.6,59 146.9,59 150,59 150,55 146.8,55 142.6,55 137.5,55 131.9,55.1 126,55.1 120.2,55.1 114.8,55.2 110,55.2 105.7,55.2 101.5,55.3 97.5,55.3 93.6,55.4 89.9,55.4 86.4,55.5 83.1,55.6 80,55.7 77,55.7 74.2,55.8 71.6,55.9 69.1,56.1 66.9,56.2 65,56.3 63.3,56.3 62,56.4" fill="url(#lg20)" filter="url(#bl5)"/>
<polygon points="61.9,66.5 63.2,66.7 64.8,67 66.8,67.3 69,67.6 71.4,68 74.1,68.3 76.9,68.7 79.9,69 83,69.3 86.3,69.5 89.8,69.8 93.5,70 97.4,70.3 101.4,70.5 105.6,70.8 109.9,71 114.7,71.3 120.1,71.5 125.9,71.8 131.8,72.1 137.4,72.4 142.5,72.6 146.7,72.8 149.9,73 150.1,67 147,66.9 142.7,66.8 137.6,66.7 132,66.6 126.1,66.4 120.3,66.3 114.9,66.1 110.1,66 105.8,65.9 101.6,65.7 97.6,65.6 93.7,65.5 90,65.3 86.5,65.2 83.2,65.1 80.1,65 77.2,64.9 74.4,64.8 71.7,64.8 69.3,64.7 67,64.6 65.1,64.6 63.4,64.5 62.1,64.5" fill="url(#lg20)" filter="url(#bl7)"/>
<polygon points="56,54.7 58.6,54.7 61.9,54.5 65.8,54.4 70.2,54.2 75,54 80,53.9 85,53.7 90,53.5 95.4,53.3 101.6,53.1 108.1,52.9 114.7,52.7 121,52.5 126.7,52.3 131.5,52.1 135,52 135,50 131.4,50.1 126.6,50.2 120.9,50.3 114.6,50.4 108,50.6 101.5,50.7 95.4,50.9 90,51.1 84.9,51.3 79.9,51.6 74.9,51.9 70.1,52.2 65.7,52.6 61.8,52.8 58.5,53.1 56,53.3" fill="url(#lg21)" filter="url(#bl33)"/>
<polygon points="56,61.2 58.5,61.4 61.8,61.7 65.7,62 70.1,62.3 74.9,62.6 79.9,63 84.9,63.3 90,63.5 95.4,63.7 101.5,63.9 108,64 114.6,64.1 120.9,64.3 126.6,64.3 131.4,64.4 135,64.5 135,62.5 131.5,62.4 126.7,62.2 121,62.1 114.7,61.9 108.1,61.7 101.6,61.5 95.4,61.3 90,61.1 85,60.9 80,60.7 75,60.5 70.2,60.3 65.8,60.2 61.9,60 58.6,59.9 56,59.8" fill="url(#lg21)" filter="url(#bl33)"/>
<polygon points="100.1,48.1 102.4,48.1 105.5,48.2 109.2,48.3 113.2,48.3 117.5,48.4 121.9,48.5 126.2,48.5 130.1,48.6 133.9,48.6 137.6,48.7 141.4,48.7 145.2,48.8 148.9,48.8 152.7,48.8 156.4,48.8 160.2,48.8 163.8,48.9 167.2,48.9 170.6,48.9 173.9,48.9 177.5,48.9 181.3,48.9 185.5,48.9 190.2,48.8 195.8,48.8 202.5,48.7 209.7,48.6 217.1,48.4 224.2,48.3 230.8,48.2 236.2,48.1 240.2,48 239.8,34 235.8,34.2 230.3,34.4 223.8,34.7 216.7,35.1 209.3,35.4 202.1,35.7 195.4,36.1 189.8,36.4 185.1,36.6 180.9,36.9 177.1,37.1 173.6,37.4 170.2,37.6 166.8,37.8 163.4,38.1 159.8,38.4 156.1,38.6 152.3,38.9 148.6,39.2 144.8,39.4 141.1,39.7 137.4,40 133.6,40.3 129.9,40.6 125.9,40.9 121.7,41.3 117.3,41.6 113,42 109,42.3 105.3,42.6 102.2,42.9 99.9,43.1" fill="url(#lg22)" filter="url(#bl46)"/>
<polygon points="135,58.4 138.5,58.5 143,58.5 148.3,58.6 154.3,58.6 160.8,58.6 167.5,58.6 174.3,58.6 181,58.6 188.2,58.5 196.3,58.4 204.8,58.2 213.4,58.1 221.7,57.9 229.2,57.7 235.4,57.6 240.1,57.5 239.9,52.5 235.3,52.7 229,52.9 221.6,53.2 213.3,53.5 204.7,53.8 196.2,54.1 188.1,54.4 181,54.6 174.3,54.8 167.5,55 160.8,55.2 154.3,55.4 148.3,55.6 142.9,55.7 138.4,55.9 135,56" fill="url(#lg23)" filter="url(#bl32)"/>
<polygon points="135,64.2 138.4,64.4 142.9,64.6 148.3,64.9 154.3,65.1 160.7,65.4 167.5,65.6 174.3,65.9 181,66 188.2,66.1 196.2,66.1 204.8,66.1 213.4,66.1 221.7,66.1 229.1,66 235.4,66 240,66 240,61 235.3,61.1 229.1,61.2 221.6,61.4 213.3,61.5 204.7,61.7 196.2,61.8 188.2,61.9 181,62 174.3,62 167.5,62 160.8,62 154.4,61.9 148.4,61.9 143,61.8 138.5,61.8 135,61.8" fill="url(#lg23)" filter="url(#bl32)"/>
<polygon points="134.9,71 138.3,71.4 142.8,71.9 148.2,72.5 154.1,73.2 160.6,74 167.3,74.7 174.1,75.4 180.8,76 188,76.6 196,77.2 204.6,77.8 213.2,78.4 221.4,79 228.9,79.5 235.2,79.9 239.8,80.2 240.2,71.8 235.6,71.6 229.3,71.4 221.8,71.2 213.6,71 204.9,70.8 196.4,70.5 188.3,70.2 181.2,70 174.5,69.8 167.7,69.5 161,69.2 154.5,68.9 148.5,68.6 143.1,68.4 138.6,68.2 135.1,68" fill="url(#lg23)" filter="url(#bl7)"/>
<ellipse cx="234" cy="39.5" rx="7" ry="2.2" fill="rgb(250,250,250)" filter="url(#bl61)"/>
</g>
<g class="g"><line x1="20.3" y1="0" x2="20.3" y2="233"/><line x1="73.5" y1="0" x2="73.5" y2="233"/><line x1="126.7" y1="0" x2="126.7" y2="233"/><line x1="179.9" y1="0" x2="179.9" y2="233"/><line x1="0" y1="38.7" x2="233" y2="38.7"/><line x1="0" y1="77.4" x2="233" y2="77.4"/><line x1="0" y1="116.1" x2="233" y2="116.1"/><line x1="0" y1="154.8" x2="233" y2="154.8"/><line x1="0" y1="193.5" x2="233" y2="193.5"/></g>
<rect x="0.4" y="0.4" width="232.2" height="232.2" fill="none" stroke="#141a46" stroke-opacity=".55" stroke-width=".8"/>
</g>
<text class="n" x="97" y="21.3" text-anchor="end">1,700</text>
<text class="n" x="97" y="58.2" text-anchor="end">1,600</text>
<text class="n" x="97" y="98.4" text-anchor="end">1,500</text>
<text class="n" x="97" y="135.9" text-anchor="end">1,400</text>
<text class="n" x="97" y="173.9" text-anchor="end">1,300</text>
<text class="n" x="97" y="214.5" text-anchor="end">1,200</text>
<text class="n" x="97" y="266.3" text-anchor="end">1,700</text>
<text class="n" x="97" y="303.8" text-anchor="end">1,600</text>
<text class="n" x="97" y="343.7" text-anchor="end">1,500</text>
<text class="n" x="97" y="381.5" text-anchor="end">1,400</text>
<text class="n" x="97" y="419.3" text-anchor="end">1,300</text>
<text class="n" x="97" y="459.9" text-anchor="end">1,200</text>
<text class="n" x="97" y="511.5" text-anchor="end">1,700</text>
<text class="n" x="97" y="548.1" text-anchor="end">1,600</text>
<text class="n" x="97" y="588" text-anchor="end">1,500</text>
<text class="n" x="97" y="626.3" text-anchor="end">1,400</text>
<text class="n" x="97" y="663.8" text-anchor="end">1,300</text>
<text class="n" x="97" y="703.7" text-anchor="end">1,200</text>
<text class="n" x="97" y="742" text-anchor="end">1,100</text>
<text class="n" x="140.2" y="751.4" text-anchor="middle">20</text>
<text class="n" x="184.8" y="751.4" text-anchor="middle">40</text>
<text class="n" x="227" y="751.4" text-anchor="middle">60</text>
<text class="n" x="269" y="751.4" text-anchor="middle">80</text>
<text class="n" x="312.6" y="751.4" text-anchor="middle">100</text>
<text class="n" x="367.6" y="751.4" text-anchor="middle">20</text>
<text class="n" x="420.5" y="751.4" text-anchor="middle">40</text>
<text class="n" x="473.7" y="751.4" text-anchor="middle">60</text>
<text class="n" x="527" y="751.4" text-anchor="middle">80</text>
<text class="n" x="578.5" y="751.4" text-anchor="middle">100</text>
<text class="n" x="339" y="769.2" text-anchor="middle" textLength="93.2" lengthAdjust="spacingAndGlyphs">Power (mW)</text>
<text class="n" transform="translate(19.9,373.9) rotate(-90)" text-anchor="middle" textLength="127" lengthAdjust="spacingAndGlyphs">Wavelength (nm)</text>
<text class="b" x="15.9" y="21.9" font-size="20px" stroke="#231f20" stroke-width="1.1" stroke-linejoin="round">a</text>
<text class="b" x="16" y="262.8" font-size="20px" stroke="#231f20" stroke-width="1.1" stroke-linejoin="round">b</text>
<text class="b" x="16" y="506.3" font-size="20px" stroke="#231f20" stroke-width="1.1" stroke-linejoin="round">c</text>
<text class="b" x="108.2" y="727.5" font-size="16.5px" textLength="93.6" lengthAdjust="spacingAndGlyphs" style="fill:#fff;stroke:#fff;stroke-width:.3px">Experiment</text>
<text class="b" x="355.6" y="727.5" font-size="16.5px" style="fill:#fff;stroke:#fff;stroke-width:.3px">Theory</text>
<rect x="101.5" y="788.5" width="478.5" height="33.5" fill="url(#cb)" stroke="#3a3a4a" stroke-width="0.8"/>
<text class="n" x="339" y="812.2" text-anchor="middle" font-size="16.4px">Intensity (AU)</text>
<text class="n" x="103" y="838.9" text-anchor="middle">0</text>
<text class="n" x="148" y="838.9" text-anchor="middle">0.1</text>
<text class="n" x="199.7" y="838.9" text-anchor="middle">0.2</text>
<text class="n" x="244.7" y="838.9" text-anchor="middle">0.3</text>
<text class="n" x="290" y="838.9" text-anchor="middle">0.4</text>
<text class="n" x="336.7" y="838.9" text-anchor="middle">0.5</text>
<text class="n" x="387.3" y="838.9" text-anchor="middle">0.6</text>
<text class="n" x="433.5" y="838.9" text-anchor="middle">0.7</text>
<text class="n" x="481" y="838.9" text-anchor="middle">0.8</text>
<text class="n" x="527.7" y="838.9" text-anchor="middle">0.9</text>
<text class="n" x="577.5" y="838.9" text-anchor="middle">1.0</text>
</svg>
</body></html>
